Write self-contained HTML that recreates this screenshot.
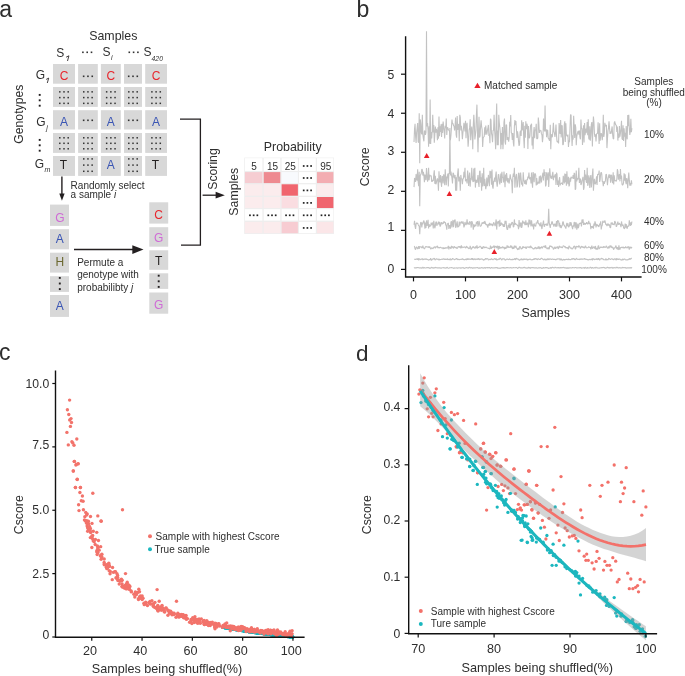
<!DOCTYPE html>
<html><head><meta charset="utf-8"><style>
html,body{margin:0;padding:0;background:#fff;width:685px;height:676px;overflow:hidden}
svg{display:block;font-family:"Liberation Sans", sans-serif}
#w{will-change:transform;width:685px;height:676px}
</style></head><body><div id="w">
<svg width="685" height="676" viewBox="0 0 685 676" font-family='"Liberation Sans", sans-serif'>

<text x="-0.80" y="16.60" font-size="23" text-anchor="start" fill="#2e2e2e">a</text>
<rect x="53.00" y="64.00" width="22.00" height="19.70" fill="#d8d8d8"/>
<text x="64.00" y="80.05" font-size="12" text-anchor="middle" fill="#e8262d">C</text>
<rect x="78.10" y="64.00" width="19.70" height="19.70" fill="#d8d8d8"/>
<rect x="82.85" y="75.50" width="1.60" height="1.60" fill="#333"/>
<rect x="87.15" y="75.50" width="1.60" height="1.60" fill="#333"/>
<rect x="91.45" y="75.50" width="1.60" height="1.60" fill="#333"/>
<rect x="100.90" y="64.00" width="19.90" height="19.70" fill="#d8d8d8"/>
<text x="110.85" y="80.05" font-size="12" text-anchor="middle" fill="#e8262d">C</text>
<rect x="124.00" y="64.00" width="18.00" height="19.70" fill="#d8d8d8"/>
<rect x="127.90" y="75.50" width="1.60" height="1.60" fill="#333"/>
<rect x="132.20" y="75.50" width="1.60" height="1.60" fill="#333"/>
<rect x="136.50" y="75.50" width="1.60" height="1.60" fill="#333"/>
<rect x="145.20" y="64.00" width="21.80" height="19.70" fill="#d8d8d8"/>
<text x="156.10" y="80.05" font-size="12" text-anchor="middle" fill="#e8262d">C</text>
<rect x="53.00" y="87.00" width="22.00" height="19.90" fill="#d8d8d8"/>
<rect x="59.05" y="91.10" width="1.50" height="1.50" fill="#333"/>
<rect x="59.05" y="96.85" width="1.50" height="1.50" fill="#333"/>
<rect x="59.05" y="102.60" width="1.50" height="1.50" fill="#333"/>
<rect x="63.25" y="91.10" width="1.50" height="1.50" fill="#333"/>
<rect x="63.25" y="96.85" width="1.50" height="1.50" fill="#333"/>
<rect x="63.25" y="102.60" width="1.50" height="1.50" fill="#333"/>
<rect x="67.45" y="91.10" width="1.50" height="1.50" fill="#333"/>
<rect x="67.45" y="96.85" width="1.50" height="1.50" fill="#333"/>
<rect x="67.45" y="102.60" width="1.50" height="1.50" fill="#333"/>
<rect x="78.10" y="87.00" width="19.70" height="19.90" fill="#d8d8d8"/>
<rect x="83.00" y="91.10" width="1.50" height="1.50" fill="#333"/>
<rect x="83.00" y="96.85" width="1.50" height="1.50" fill="#333"/>
<rect x="83.00" y="102.60" width="1.50" height="1.50" fill="#333"/>
<rect x="87.20" y="91.10" width="1.50" height="1.50" fill="#333"/>
<rect x="87.20" y="96.85" width="1.50" height="1.50" fill="#333"/>
<rect x="87.20" y="102.60" width="1.50" height="1.50" fill="#333"/>
<rect x="91.40" y="91.10" width="1.50" height="1.50" fill="#333"/>
<rect x="91.40" y="96.85" width="1.50" height="1.50" fill="#333"/>
<rect x="91.40" y="102.60" width="1.50" height="1.50" fill="#333"/>
<rect x="100.90" y="87.00" width="19.90" height="19.90" fill="#d8d8d8"/>
<rect x="105.90" y="91.10" width="1.50" height="1.50" fill="#333"/>
<rect x="105.90" y="96.85" width="1.50" height="1.50" fill="#333"/>
<rect x="105.90" y="102.60" width="1.50" height="1.50" fill="#333"/>
<rect x="110.10" y="91.10" width="1.50" height="1.50" fill="#333"/>
<rect x="110.10" y="96.85" width="1.50" height="1.50" fill="#333"/>
<rect x="110.10" y="102.60" width="1.50" height="1.50" fill="#333"/>
<rect x="114.30" y="91.10" width="1.50" height="1.50" fill="#333"/>
<rect x="114.30" y="96.85" width="1.50" height="1.50" fill="#333"/>
<rect x="114.30" y="102.60" width="1.50" height="1.50" fill="#333"/>
<rect x="124.00" y="87.00" width="18.00" height="19.90" fill="#d8d8d8"/>
<rect x="128.05" y="91.10" width="1.50" height="1.50" fill="#333"/>
<rect x="128.05" y="96.85" width="1.50" height="1.50" fill="#333"/>
<rect x="128.05" y="102.60" width="1.50" height="1.50" fill="#333"/>
<rect x="132.25" y="91.10" width="1.50" height="1.50" fill="#333"/>
<rect x="132.25" y="96.85" width="1.50" height="1.50" fill="#333"/>
<rect x="132.25" y="102.60" width="1.50" height="1.50" fill="#333"/>
<rect x="136.45" y="91.10" width="1.50" height="1.50" fill="#333"/>
<rect x="136.45" y="96.85" width="1.50" height="1.50" fill="#333"/>
<rect x="136.45" y="102.60" width="1.50" height="1.50" fill="#333"/>
<rect x="145.20" y="87.00" width="21.80" height="19.90" fill="#d8d8d8"/>
<rect x="151.15" y="91.10" width="1.50" height="1.50" fill="#333"/>
<rect x="151.15" y="96.85" width="1.50" height="1.50" fill="#333"/>
<rect x="151.15" y="102.60" width="1.50" height="1.50" fill="#333"/>
<rect x="155.35" y="91.10" width="1.50" height="1.50" fill="#333"/>
<rect x="155.35" y="96.85" width="1.50" height="1.50" fill="#333"/>
<rect x="155.35" y="102.60" width="1.50" height="1.50" fill="#333"/>
<rect x="159.55" y="91.10" width="1.50" height="1.50" fill="#333"/>
<rect x="159.55" y="96.85" width="1.50" height="1.50" fill="#333"/>
<rect x="159.55" y="102.60" width="1.50" height="1.50" fill="#333"/>
<rect x="53.00" y="110.20" width="22.00" height="19.30" fill="#d8d8d8"/>
<text x="64.00" y="125.55" font-size="12" text-anchor="middle" fill="#3a55b4">A</text>
<rect x="78.10" y="110.20" width="19.70" height="19.30" fill="#d8d8d8"/>
<rect x="82.85" y="119.50" width="1.60" height="1.60" fill="#333"/>
<rect x="87.15" y="119.50" width="1.60" height="1.60" fill="#333"/>
<rect x="91.45" y="119.50" width="1.60" height="1.60" fill="#333"/>
<rect x="100.90" y="110.20" width="19.90" height="19.30" fill="#d8d8d8"/>
<text x="110.85" y="125.55" font-size="12" text-anchor="middle" fill="#3a55b4">A</text>
<rect x="124.00" y="110.20" width="18.00" height="19.30" fill="#d8d8d8"/>
<rect x="127.90" y="119.50" width="1.60" height="1.60" fill="#333"/>
<rect x="132.20" y="119.50" width="1.60" height="1.60" fill="#333"/>
<rect x="136.50" y="119.50" width="1.60" height="1.60" fill="#333"/>
<rect x="145.20" y="110.20" width="21.80" height="19.30" fill="#d8d8d8"/>
<text x="156.10" y="125.55" font-size="12" text-anchor="middle" fill="#3a55b4">A</text>
<rect x="53.00" y="133.00" width="22.00" height="19.90" fill="#d8d8d8"/>
<rect x="59.05" y="137.05" width="1.50" height="1.50" fill="#333"/>
<rect x="59.05" y="142.55" width="1.50" height="1.50" fill="#333"/>
<rect x="59.05" y="148.05" width="1.50" height="1.50" fill="#333"/>
<rect x="63.25" y="137.05" width="1.50" height="1.50" fill="#333"/>
<rect x="63.25" y="142.55" width="1.50" height="1.50" fill="#333"/>
<rect x="63.25" y="148.05" width="1.50" height="1.50" fill="#333"/>
<rect x="67.45" y="137.05" width="1.50" height="1.50" fill="#333"/>
<rect x="67.45" y="142.55" width="1.50" height="1.50" fill="#333"/>
<rect x="67.45" y="148.05" width="1.50" height="1.50" fill="#333"/>
<rect x="78.10" y="133.00" width="19.70" height="19.90" fill="#d8d8d8"/>
<rect x="83.00" y="137.05" width="1.50" height="1.50" fill="#333"/>
<rect x="83.00" y="142.55" width="1.50" height="1.50" fill="#333"/>
<rect x="83.00" y="148.05" width="1.50" height="1.50" fill="#333"/>
<rect x="87.20" y="137.05" width="1.50" height="1.50" fill="#333"/>
<rect x="87.20" y="142.55" width="1.50" height="1.50" fill="#333"/>
<rect x="87.20" y="148.05" width="1.50" height="1.50" fill="#333"/>
<rect x="91.40" y="137.05" width="1.50" height="1.50" fill="#333"/>
<rect x="91.40" y="142.55" width="1.50" height="1.50" fill="#333"/>
<rect x="91.40" y="148.05" width="1.50" height="1.50" fill="#333"/>
<rect x="100.90" y="133.00" width="19.90" height="19.90" fill="#d8d8d8"/>
<rect x="105.90" y="137.05" width="1.50" height="1.50" fill="#333"/>
<rect x="105.90" y="142.55" width="1.50" height="1.50" fill="#333"/>
<rect x="105.90" y="148.05" width="1.50" height="1.50" fill="#333"/>
<rect x="110.10" y="137.05" width="1.50" height="1.50" fill="#333"/>
<rect x="110.10" y="142.55" width="1.50" height="1.50" fill="#333"/>
<rect x="110.10" y="148.05" width="1.50" height="1.50" fill="#333"/>
<rect x="114.30" y="137.05" width="1.50" height="1.50" fill="#333"/>
<rect x="114.30" y="142.55" width="1.50" height="1.50" fill="#333"/>
<rect x="114.30" y="148.05" width="1.50" height="1.50" fill="#333"/>
<rect x="124.00" y="133.00" width="18.00" height="19.90" fill="#d8d8d8"/>
<rect x="128.05" y="137.05" width="1.50" height="1.50" fill="#333"/>
<rect x="128.05" y="142.55" width="1.50" height="1.50" fill="#333"/>
<rect x="128.05" y="148.05" width="1.50" height="1.50" fill="#333"/>
<rect x="132.25" y="137.05" width="1.50" height="1.50" fill="#333"/>
<rect x="132.25" y="142.55" width="1.50" height="1.50" fill="#333"/>
<rect x="132.25" y="148.05" width="1.50" height="1.50" fill="#333"/>
<rect x="136.45" y="137.05" width="1.50" height="1.50" fill="#333"/>
<rect x="136.45" y="142.55" width="1.50" height="1.50" fill="#333"/>
<rect x="136.45" y="148.05" width="1.50" height="1.50" fill="#333"/>
<rect x="145.20" y="133.00" width="21.80" height="19.90" fill="#d8d8d8"/>
<rect x="151.15" y="137.05" width="1.50" height="1.50" fill="#333"/>
<rect x="151.15" y="142.55" width="1.50" height="1.50" fill="#333"/>
<rect x="151.15" y="148.05" width="1.50" height="1.50" fill="#333"/>
<rect x="155.35" y="137.05" width="1.50" height="1.50" fill="#333"/>
<rect x="155.35" y="142.55" width="1.50" height="1.50" fill="#333"/>
<rect x="155.35" y="148.05" width="1.50" height="1.50" fill="#333"/>
<rect x="159.55" y="137.05" width="1.50" height="1.50" fill="#333"/>
<rect x="159.55" y="142.55" width="1.50" height="1.50" fill="#333"/>
<rect x="159.55" y="148.05" width="1.50" height="1.50" fill="#333"/>
<rect x="53.00" y="156.00" width="22.00" height="19.90" fill="#d8d8d8"/>
<text x="63.30" y="168.75" font-size="12" text-anchor="middle" fill="#231f20">T</text>
<rect x="78.10" y="156.00" width="19.70" height="19.90" fill="#d8d8d8"/>
<rect x="83.00" y="158.15" width="1.50" height="1.50" fill="#333"/>
<rect x="83.00" y="164.35" width="1.50" height="1.50" fill="#333"/>
<rect x="83.00" y="170.55" width="1.50" height="1.50" fill="#333"/>
<rect x="87.20" y="158.15" width="1.50" height="1.50" fill="#333"/>
<rect x="87.20" y="164.35" width="1.50" height="1.50" fill="#333"/>
<rect x="87.20" y="170.55" width="1.50" height="1.50" fill="#333"/>
<rect x="91.40" y="158.15" width="1.50" height="1.50" fill="#333"/>
<rect x="91.40" y="164.35" width="1.50" height="1.50" fill="#333"/>
<rect x="91.40" y="170.55" width="1.50" height="1.50" fill="#333"/>
<rect x="100.90" y="156.00" width="19.90" height="19.90" fill="#d8d8d8"/>
<text x="110.85" y="168.75" font-size="12" text-anchor="middle" fill="#3a55b4">A</text>
<rect x="124.00" y="156.00" width="18.00" height="19.90" fill="#d8d8d8"/>
<rect x="128.05" y="158.15" width="1.50" height="1.50" fill="#333"/>
<rect x="128.05" y="164.35" width="1.50" height="1.50" fill="#333"/>
<rect x="128.05" y="170.55" width="1.50" height="1.50" fill="#333"/>
<rect x="132.25" y="158.15" width="1.50" height="1.50" fill="#333"/>
<rect x="132.25" y="164.35" width="1.50" height="1.50" fill="#333"/>
<rect x="132.25" y="170.55" width="1.50" height="1.50" fill="#333"/>
<rect x="136.45" y="158.15" width="1.50" height="1.50" fill="#333"/>
<rect x="136.45" y="164.35" width="1.50" height="1.50" fill="#333"/>
<rect x="136.45" y="170.55" width="1.50" height="1.50" fill="#333"/>
<rect x="145.20" y="156.00" width="21.80" height="19.90" fill="#d8d8d8"/>
<text x="155.40" y="168.75" font-size="12" text-anchor="middle" fill="#231f20">T</text>
<text x="113.30" y="40.00" font-size="12.4" text-anchor="middle" fill="#2e2e2e">Samples</text>
<text x="56.30" y="57.30" font-size="12" text-anchor="start" fill="#2e2e2e">S</text>
<path d="M66.1,57.2 L68.9,55.8 L67.5,61.0" fill="none" stroke="#231f20" stroke-width="0.85" stroke-linejoin="round"/>
<rect x="82.10" y="51.50" width="1.60" height="1.60" fill="#333"/>
<rect x="86.40" y="51.50" width="1.60" height="1.60" fill="#333"/>
<rect x="90.70" y="51.50" width="1.60" height="1.60" fill="#333"/>
<text x="102.60" y="55.70" font-size="12" text-anchor="start" fill="#2e2e2e">S</text>
<text x="110.90" y="59.70" font-size="7" text-anchor="start" fill="#2e2e2e" font-style="italic">i</text>
<rect x="128.50" y="51.50" width="1.60" height="1.60" fill="#333"/>
<rect x="132.80" y="51.50" width="1.60" height="1.60" fill="#333"/>
<rect x="137.10" y="51.50" width="1.60" height="1.60" fill="#333"/>
<text x="143.60" y="55.90" font-size="12" text-anchor="start" fill="#2e2e2e">S</text>
<text x="151.60" y="60.60" font-size="6.8" text-anchor="start" fill="#2e2e2e" font-style="italic">420</text>
<text x="35.70" y="78.80" font-size="12" text-anchor="start" fill="#2e2e2e">G</text>
<path d="M46.2,79.4 L48.7,78.1 L47.3,83.0" fill="none" stroke="#231f20" stroke-width="0.85" stroke-linejoin="round"/>
<rect x="38.75" y="93.95" width="1.90" height="1.90" fill="#231f20"/>
<rect x="38.75" y="99.35" width="1.90" height="1.90" fill="#231f20"/>
<rect x="38.75" y="104.75" width="1.90" height="1.90" fill="#231f20"/>
<text x="36.30" y="125.50" font-size="12" text-anchor="start" fill="#2e2e2e">G</text>
<text x="46.30" y="129.60" font-size="7" text-anchor="start" fill="#2e2e2e" font-style="italic">j</text>
<rect x="38.75" y="138.95" width="1.90" height="1.90" fill="#231f20"/>
<rect x="38.75" y="144.35" width="1.90" height="1.90" fill="#231f20"/>
<rect x="38.75" y="149.75" width="1.90" height="1.90" fill="#231f20"/>
<text x="34.70" y="167.70" font-size="12" text-anchor="start" fill="#2e2e2e">G</text>
<text x="44.40" y="171.90" font-size="7" text-anchor="start" fill="#2e2e2e" font-style="italic">m</text>
<text x="22.70" y="114.20" font-size="12.2" text-anchor="middle" fill="#2e2e2e" transform="rotate(-90 22.70 114.20)">Genotypes</text>
<line x1="61.90" y1="176.50" x2="61.90" y2="195.00" stroke="#231f20" stroke-width="1.4"/>
<polygon points="59.30,193.60 64.60,193.60 61.95,200.80" fill="#231f20"/>
<text x="70.60" y="188.60" font-size="10" text-anchor="start" fill="#2e2e2e">Randomly select</text>
<text x="70.6" y="198.0" font-size="10" fill="#2e2e2e">a sample <tspan font-style="italic">i</tspan></text>
<rect x="50.00" y="204.60" width="19.00" height="21.30" fill="#d8d8d8"/>
<text x="59.80" y="221.85" font-size="12" text-anchor="middle" fill="#cf6ad6">G</text>
<rect x="50.00" y="229.20" width="19.00" height="20.10" fill="#d8d8d8"/>
<text x="59.80" y="243.15" font-size="12" text-anchor="middle" fill="#3a55b4">A</text>
<rect x="50.00" y="252.70" width="19.00" height="19.90" fill="#d8d8d8"/>
<text x="59.80" y="266.25" font-size="12" text-anchor="middle" fill="#6b6830">H</text>
<rect x="50.00" y="276.20" width="19.00" height="15.70" fill="#d8d8d8"/>
<rect x="58.85" y="276.95" width="1.90" height="1.90" fill="#231f20"/>
<rect x="58.85" y="282.55" width="1.90" height="1.90" fill="#231f20"/>
<rect x="58.85" y="288.15" width="1.90" height="1.90" fill="#231f20"/>
<rect x="50.00" y="295.00" width="19.00" height="21.90" fill="#d8d8d8"/>
<text x="59.80" y="309.65" font-size="12" text-anchor="middle" fill="#3a55b4">A</text>
<rect x="149.30" y="202.30" width="18.90" height="21.30" fill="#d8d8d8"/>
<text x="158.70" y="219.35" font-size="12" text-anchor="middle" fill="#e8262d">C</text>
<rect x="149.30" y="227.20" width="18.90" height="19.50" fill="#d8d8d8"/>
<text x="158.70" y="242.15" font-size="12" text-anchor="middle" fill="#cf6ad6">G</text>
<rect x="149.30" y="250.30" width="18.90" height="19.50" fill="#d8d8d8"/>
<text x="158.70" y="265.25" font-size="12" text-anchor="middle" fill="#231f20">T</text>
<rect x="149.30" y="273.30" width="18.90" height="15.60" fill="#d8d8d8"/>
<rect x="157.75" y="274.75" width="1.90" height="1.90" fill="#231f20"/>
<rect x="157.75" y="280.35" width="1.90" height="1.90" fill="#231f20"/>
<rect x="157.75" y="285.95" width="1.90" height="1.90" fill="#231f20"/>
<rect x="149.30" y="292.50" width="18.90" height="21.20" fill="#d8d8d8"/>
<text x="158.70" y="308.65" font-size="12" text-anchor="middle" fill="#cf6ad6">G</text>
<line x1="74.00" y1="249.60" x2="134.00" y2="249.60" stroke="#231f20" stroke-width="1.5"/>
<polygon points="132.30,245.30 143.50,249.60 132.30,254.00" fill="#231f20"/>
<text x="77.20" y="266.40" font-size="10" text-anchor="start" fill="#2e2e2e">Permute a</text>
<text x="77.20" y="278.30" font-size="10" text-anchor="start" fill="#2e2e2e">genotype with</text>
<text x="77.2" y="290.5" font-size="10" fill="#2e2e2e">probabilibty <tspan font-style="italic">j</tspan></text>
<polyline points="180.0,119.1 200.4,119.1 200.4,245.2 181.0,245.2" fill="none" stroke="#231f20" stroke-width="1.3"/>
<line x1="202.60" y1="195.20" x2="217.00" y2="195.20" stroke="#231f20" stroke-width="1.3"/>
<polygon points="215.60,191.80 224.80,195.20 215.60,198.60" fill="#231f20"/>
<text x="217.20" y="169.00" font-size="12.2" text-anchor="middle" fill="#2e2e2e" transform="rotate(-90 217.20 169.00)">Scoring</text>
<text x="238.20" y="191.70" font-size="12.3" text-anchor="middle" fill="#2e2e2e" transform="rotate(-90 238.20 191.70)">Samples</text>
<text x="292.70" y="151.00" font-size="12.4" text-anchor="middle" fill="#2e2e2e">Probability</text>
<rect x="244.20" y="157.60" width="89.80" height="76.30" fill="#eeeeee"/>
<rect x="244.90" y="158.20" width="17.50" height="12.70" fill="#ffffff"/>
<text x="254.15" y="170.30" font-size="10" text-anchor="middle" fill="#2e2e2e">5</text>
<rect x="263.70" y="158.20" width="16.60" height="12.70" fill="#ffffff"/>
<text x="272.50" y="170.30" font-size="10" text-anchor="middle" fill="#2e2e2e">15</text>
<rect x="281.60" y="158.20" width="16.30" height="12.70" fill="#ffffff"/>
<text x="290.25" y="170.30" font-size="10" text-anchor="middle" fill="#2e2e2e">25</text>
<rect x="299.00" y="158.20" width="16.80" height="12.70" fill="#ffffff"/>
<rect x="302.85" y="165.15" width="1.70" height="1.70" fill="#222"/>
<rect x="306.55" y="165.15" width="1.70" height="1.70" fill="#222"/>
<rect x="310.25" y="165.15" width="1.70" height="1.70" fill="#222"/>
<rect x="317.00" y="158.20" width="16.40" height="12.70" fill="#ffffff"/>
<text x="325.70" y="170.30" font-size="10" text-anchor="middle" fill="#2e2e2e">95</text>
<rect x="244.90" y="172.10" width="17.50" height="11.00" fill="#f6cdd2"/>
<rect x="263.70" y="172.10" width="16.60" height="11.00" fill="#ee8a90"/>
<rect x="281.60" y="172.10" width="16.30" height="11.00" fill="#f8fafd"/>
<rect x="299.00" y="172.10" width="16.80" height="11.00" fill="#ffffff"/>
<rect x="302.85" y="177.15" width="1.70" height="1.70" fill="#222"/>
<rect x="306.55" y="177.15" width="1.70" height="1.70" fill="#222"/>
<rect x="310.25" y="177.15" width="1.70" height="1.70" fill="#222"/>
<rect x="317.00" y="172.10" width="16.40" height="11.00" fill="#f3adb2"/>
<rect x="244.90" y="184.30" width="17.50" height="11.40" fill="#fbeced"/>
<rect x="263.70" y="184.30" width="16.60" height="11.40" fill="#fbeced"/>
<rect x="281.60" y="184.30" width="16.30" height="11.40" fill="#f0656e"/>
<rect x="299.00" y="184.30" width="16.80" height="11.40" fill="#ffffff"/>
<rect x="302.85" y="189.55" width="1.70" height="1.70" fill="#222"/>
<rect x="306.55" y="189.55" width="1.70" height="1.70" fill="#222"/>
<rect x="310.25" y="189.55" width="1.70" height="1.70" fill="#222"/>
<rect x="317.00" y="184.30" width="16.40" height="11.40" fill="#fbeced"/>
<rect x="244.90" y="197.00" width="17.50" height="11.00" fill="#fbeced"/>
<rect x="263.70" y="197.00" width="16.60" height="11.00" fill="#fbeced"/>
<rect x="281.60" y="197.00" width="16.30" height="11.00" fill="#fadde1"/>
<rect x="299.00" y="197.00" width="16.80" height="11.00" fill="#ffffff"/>
<rect x="302.85" y="202.05" width="1.70" height="1.70" fill="#222"/>
<rect x="306.55" y="202.05" width="1.70" height="1.70" fill="#222"/>
<rect x="310.25" y="202.05" width="1.70" height="1.70" fill="#222"/>
<rect x="317.00" y="197.00" width="16.40" height="11.00" fill="#f0656e"/>
<rect x="244.90" y="209.20" width="17.50" height="11.40" fill="#ffffff"/>
<rect x="249.10" y="214.45" width="1.70" height="1.70" fill="#222"/>
<rect x="252.80" y="214.45" width="1.70" height="1.70" fill="#222"/>
<rect x="256.50" y="214.45" width="1.70" height="1.70" fill="#222"/>
<rect x="263.70" y="209.20" width="16.60" height="11.40" fill="#ffffff"/>
<rect x="267.45" y="214.45" width="1.70" height="1.70" fill="#222"/>
<rect x="271.15" y="214.45" width="1.70" height="1.70" fill="#222"/>
<rect x="274.85" y="214.45" width="1.70" height="1.70" fill="#222"/>
<rect x="281.60" y="209.20" width="16.30" height="11.40" fill="#ffffff"/>
<rect x="285.20" y="214.45" width="1.70" height="1.70" fill="#222"/>
<rect x="288.90" y="214.45" width="1.70" height="1.70" fill="#222"/>
<rect x="292.60" y="214.45" width="1.70" height="1.70" fill="#222"/>
<rect x="299.00" y="209.20" width="16.80" height="11.40" fill="#ffffff"/>
<rect x="302.85" y="214.45" width="1.70" height="1.70" fill="#222"/>
<rect x="306.55" y="214.45" width="1.70" height="1.70" fill="#222"/>
<rect x="310.25" y="214.45" width="1.70" height="1.70" fill="#222"/>
<rect x="317.00" y="209.20" width="16.40" height="11.40" fill="#ffffff"/>
<rect x="320.65" y="214.45" width="1.70" height="1.70" fill="#222"/>
<rect x="324.35" y="214.45" width="1.70" height="1.70" fill="#222"/>
<rect x="328.05" y="214.45" width="1.70" height="1.70" fill="#222"/>
<rect x="244.90" y="221.90" width="17.50" height="11.30" fill="#fbeced"/>
<rect x="263.70" y="221.90" width="16.60" height="11.30" fill="#fbeced"/>
<rect x="281.60" y="221.90" width="16.30" height="11.30" fill="#f7ccd2"/>
<rect x="299.00" y="221.90" width="16.80" height="11.30" fill="#ffffff"/>
<rect x="302.85" y="227.10" width="1.70" height="1.70" fill="#222"/>
<rect x="306.55" y="227.10" width="1.70" height="1.70" fill="#222"/>
<rect x="310.25" y="227.10" width="1.70" height="1.70" fill="#222"/>
<rect x="317.00" y="221.90" width="16.40" height="11.30" fill="#fbe6e8"/>
<text x="356.50" y="16.70" font-size="23" text-anchor="start" fill="#2e2e2e">b</text>
<polyline fill="none" stroke="#c2c2c2" stroke-width="1.1" stroke-linejoin="bevel" points="414.02,142.01 414.54,128.88 415.06,123.82 415.58,136.19 416.10,142.87 416.62,132.52 417.14,128.06 417.66,122.98 418.18,141.95 418.70,142.58 419.22,113.24 419.74,163.21 420.26,119.40 420.78,123.92 421.30,132.81 421.82,134.23 422.34,114.76 422.86,134.35 423.38,138.41 423.90,141.31 424.42,131.20 424.94,130.79 425.46,134.81 425.98,132.49 426.50,31.26 427.02,126.30 427.54,122.99 428.06,130.26 428.58,146.65 429.10,126.23 429.62,143.62 430.14,99.58 430.66,144.06 431.18,131.96 431.70,138.36 432.22,130.23 432.74,114.76 433.26,132.38 433.78,125.07 434.30,142.83 434.82,134.34 435.34,126.55 435.86,132.74 436.38,128.94 436.90,131.13 437.42,140.23 437.94,127.36 438.46,138.64 438.98,116.63 439.50,136.12 440.02,126.35 440.54,131.96 441.06,124.17 441.58,136.92 442.10,123.79 442.62,132.99 443.14,121.62 443.66,126.86 444.18,130.82 444.70,138.38 445.22,125.68 445.74,128.14 446.26,118.52 446.78,135.07 447.30,127.43 447.82,127.81 448.34,129.66 448.86,130.27 449.38,130.49 449.90,136.89 450.42,140.30 450.94,135.23 451.46,127.14 451.98,119.59 452.50,123.97 453.02,123.34 453.54,125.61 454.06,126.25 454.58,130.48 455.10,125.65 455.62,117.44 456.14,134.67 456.66,137.67 457.18,115.91 457.70,129.97 458.22,124.02 458.74,124.81 459.26,141.29 459.78,114.76 460.30,117.42 460.82,130.53 461.34,125.81 461.86,130.94 462.38,139.23 462.90,132.90 463.42,128.91 463.94,122.83 464.46,126.16 464.98,131.49 465.50,120.87 466.02,138.22 466.54,125.48 467.06,122.86 467.58,134.37 468.10,146.66 468.62,139.41 469.14,130.04 469.66,127.65 470.18,119.29 470.70,140.21 471.22,131.96 471.74,126.66 472.26,133.27 472.78,149.20 473.30,125.37 473.82,114.76 474.34,123.75 474.86,139.50 475.38,135.36 475.90,130.16 476.42,114.76 476.94,104.65 477.46,131.05 477.98,152.28 478.50,132.65 479.02,116.72 479.54,137.60 480.06,135.87 480.58,126.07 481.10,120.30 481.62,126.62 482.14,129.51 482.66,146.91 483.18,137.82 483.70,136.99 484.22,136.35 484.74,127.17 485.26,134.73 485.78,125.52 486.30,131.30 486.82,134.71 487.34,131.01 487.86,128.46 488.38,124.94 488.90,135.89 489.42,133.89 489.94,143.16 490.46,118.83 490.98,120.08 491.50,133.45 492.02,135.90 492.54,142.11 493.06,130.59 493.58,130.29 494.10,114.76 494.62,129.96 495.14,138.36 495.66,149.20 496.18,120.42 496.70,103.48 497.22,145.17 497.74,130.50 498.26,145.17 498.78,114.76 499.30,122.81 499.82,127.29 500.34,133.41 500.86,149.20 501.38,133.02 501.90,144.72 502.42,127.09 502.94,149.20 503.46,139.42 503.98,121.98 504.50,118.50 505.02,141.66 505.54,144.56 506.06,124.77 506.58,124.99 507.10,140.07 507.62,137.67 508.14,137.67 508.66,141.73 509.18,137.56 509.70,121.73 510.22,126.33 510.74,115.12 511.26,132.69 511.78,133.09 512.30,140.03 512.82,132.99 513.34,142.74 513.86,146.55 514.38,126.27 514.90,120.17 515.42,125.12 515.94,121.06 516.46,129.91 516.98,137.87 517.50,131.27 518.02,135.05 518.54,141.09 519.06,145.85 519.58,144.14 520.10,132.02 520.62,130.74 521.14,135.87 521.66,120.26 522.18,130.51 522.70,127.20 523.22,121.99 523.74,138.70 524.26,148.13 524.78,125.81 525.30,137.62 525.82,121.23 526.34,129.21 526.86,123.73 527.38,125.72 527.90,149.04 528.42,126.08 528.94,137.50 529.46,138.18 529.98,135.55 530.50,125.68 531.02,124.73 531.54,123.69 532.06,145.59 532.58,136.82 533.10,149.20 533.62,132.82 534.14,127.06 534.66,138.24 535.18,129.97 535.70,130.08 536.22,123.72 536.74,138.71 537.26,138.78 537.78,138.24 538.30,117.61 538.82,123.04 539.34,132.99 539.86,130.13 540.38,131.04 540.90,130.31 541.42,133.69 541.94,134.72 542.46,142.28 542.98,137.24 543.50,118.45 544.02,127.58 544.54,131.45 545.06,105.43 545.58,131.47 546.10,129.08 546.62,137.27 547.14,130.37 547.66,130.01 548.18,138.12 548.70,138.45 549.22,140.17 549.74,140.70 550.26,124.68 550.78,149.20 551.30,134.17 551.82,136.99 552.34,137.06 552.86,131.18 553.38,122.73 553.90,131.35 554.42,133.13 554.94,137.00 555.46,133.04 555.98,124.50 556.50,135.21 557.02,141.38 557.54,142.34 558.06,141.05 558.58,143.37 559.10,122.97 559.62,129.07 560.14,133.93 560.66,120.01 561.18,137.37 561.70,125.81 562.22,125.41 562.74,144.66 563.26,144.74 563.78,139.58 564.30,124.55 564.82,121.35 565.34,142.04 565.86,123.38 566.38,135.12 566.90,135.20 567.42,136.50 567.94,134.64 568.46,146.89 568.98,140.19 569.50,142.11 570.02,127.96 570.54,114.85 571.06,114.76 571.58,134.74 572.10,146.09 572.62,135.32 573.14,139.68 573.66,115.72 574.18,127.30 574.70,137.95 575.22,124.31 575.74,127.59 576.26,145.30 576.78,136.34 577.30,133.94 577.82,131.82 578.34,130.90 578.86,134.76 579.38,130.42 579.90,136.78 580.42,139.33 580.94,119.55 581.46,129.03 581.98,128.39 582.50,145.06 583.02,133.34 583.54,125.26 584.06,142.57 584.58,122.98 585.10,135.17 585.62,128.68 586.14,133.07 586.66,130.19 587.18,122.11 587.70,135.29 588.22,119.15 588.74,138.39 589.26,139.62 589.78,126.15 590.30,140.72 590.82,135.02 591.34,124.54 591.86,122.06 592.38,146.53 592.90,127.83 593.42,116.54 593.94,122.18 594.46,133.95 594.98,136.90 595.50,134.41 596.02,141.43 596.54,134.15 597.06,133.51 597.58,133.17 598.10,122.28 598.62,133.87 599.14,143.93 599.66,123.36 600.18,140.77 600.70,135.65 601.22,133.08 601.74,134.80 602.26,140.20 602.78,134.02 603.30,114.76 603.82,136.95 604.34,133.10 604.86,122.77 605.38,125.87 605.90,125.72 606.42,124.91 606.94,148.11 607.46,139.06 607.98,130.93 608.50,127.89 609.02,121.37 609.54,128.13 610.06,133.93 610.58,131.66 611.10,133.71 611.62,129.95 612.14,126.45 612.66,134.77 613.18,138.65 613.70,138.99 614.22,122.99 614.74,121.48 615.26,123.85 615.78,124.95 616.30,125.15 616.82,132.00 617.34,126.54 617.86,140.60 618.38,133.64 618.90,137.99 619.42,126.02 619.94,136.73 620.46,132.87 620.98,128.70 621.50,120.87 622.02,138.47 622.54,139.68 623.06,125.28 623.58,141.05 624.10,128.27 624.62,136.65 625.14,132.85 625.66,146.91 626.18,126.13 626.70,136.08 627.22,139.35 627.74,114.95 628.26,126.14 628.78,114.76 629.30,128.64 629.82,134.83 630.34,131.10 630.86,118.81 631.38,132.20 631.90,128.28"/>
<polyline fill="none" stroke="#c2c2c2" stroke-width="1.1" stroke-linejoin="bevel" points="414.02,187.12 414.54,177.94 415.06,180.74 415.58,181.84 416.10,173.93 416.62,178.86 417.14,180.72 417.66,169.36 418.18,181.92 418.70,186.12 419.22,171.80 419.74,206.16 420.26,175.62 420.78,174.56 421.30,172.99 421.82,169.09 422.34,169.80 422.86,175.57 423.38,171.79 423.90,175.45 424.42,182.11 424.94,174.46 425.46,178.64 425.98,180.10 426.50,167.96 427.02,174.69 427.54,181.60 428.06,179.35 428.58,167.74 429.10,180.29 429.62,174.86 430.14,175.49 430.66,176.09 431.18,175.67 431.70,181.58 432.22,181.48 432.74,179.80 433.26,180.89 433.78,174.44 434.30,170.37 434.82,183.84 435.34,175.89 435.86,184.34 436.38,182.75 436.90,180.24 437.42,178.32 437.94,181.34 438.46,190.70 438.98,171.24 439.50,180.41 440.02,182.43 440.54,175.14 441.06,182.22 441.58,186.83 442.10,176.20 442.62,176.59 443.14,183.49 443.66,174.27 444.18,176.84 444.70,185.20 445.22,169.21 445.74,177.43 446.26,185.20 446.78,176.41 447.30,178.21 447.82,173.54 448.34,186.39 448.86,173.15 449.38,173.70 449.90,128.08 450.42,175.53 450.94,171.63 451.46,174.94 451.98,178.21 452.50,183.56 453.02,172.76 453.54,173.48 454.06,177.27 454.58,178.08 455.10,174.92 455.62,190.70 456.14,177.17 456.66,190.70 457.18,177.59 457.70,173.07 458.22,168.43 458.74,181.55 459.26,176.55 459.78,179.33 460.30,190.70 460.82,174.90 461.34,179.04 461.86,178.57 462.38,184.17 462.90,179.18 463.42,178.50 463.94,171.86 464.46,177.33 464.98,167.74 465.50,181.22 466.02,180.42 466.54,179.24 467.06,183.45 467.58,170.58 468.10,175.37 468.62,186.01 469.14,178.36 469.66,172.58 470.18,186.82 470.70,178.13 471.22,180.27 471.74,167.74 472.26,176.66 472.78,181.22 473.30,182.07 473.82,168.48 474.34,181.54 474.86,167.74 475.38,187.61 475.90,180.02 476.42,180.28 476.94,182.86 477.46,180.13 477.98,175.13 478.50,182.64 479.02,186.90 479.54,171.50 480.06,170.82 480.58,182.78 481.10,177.27 481.62,190.70 482.14,173.19 482.66,186.33 483.18,182.03 483.70,167.74 484.22,185.96 484.74,178.85 485.26,184.89 485.78,189.20 486.30,185.42 486.82,177.46 487.34,186.20 487.86,182.23 488.38,174.93 488.90,179.84 489.42,186.23 489.94,170.67 490.46,178.29 490.98,171.18 491.50,184.77 492.02,169.62 492.54,186.43 493.06,188.63 493.58,181.32 494.10,181.02 494.62,177.51 495.14,182.07 495.66,175.45 496.18,171.57 496.70,182.58 497.22,186.58 497.74,181.19 498.26,174.43 498.78,174.45 499.30,180.89 499.82,184.43 500.34,179.07 500.86,173.63 501.38,182.93 501.90,171.78 502.42,177.72 502.94,177.37 503.46,182.44 503.98,171.43 504.50,178.73 505.02,187.22 505.54,174.44 506.06,181.30 506.58,173.01 507.10,178.04 507.62,182.44 508.14,178.03 508.66,181.69 509.18,183.55 509.70,178.86 510.22,174.36 510.74,178.58 511.26,179.45 511.78,182.05 512.30,193.27 512.82,177.47 513.34,173.67 513.86,176.95 514.38,167.74 514.90,187.68 515.42,179.27 515.94,176.02 516.46,174.01 516.98,187.46 517.50,185.74 518.02,179.21 518.54,173.15 519.06,172.90 519.58,187.38 520.10,178.26 520.62,172.49 521.14,178.83 521.66,184.69 522.18,182.95 522.70,186.37 523.22,172.38 523.74,180.41 524.26,181.36 524.78,183.82 525.30,179.75 525.82,184.01 526.34,184.39 526.86,179.21 527.38,180.26 527.90,176.45 528.42,178.17 528.94,172.45 529.46,179.24 529.98,177.54 530.50,177.74 531.02,183.45 531.54,172.42 532.06,182.10 532.58,187.73 533.10,172.09 533.62,175.38 534.14,182.11 534.66,173.72 535.18,173.66 535.70,175.10 536.22,185.47 536.74,178.01 537.26,184.72 537.78,182.37 538.30,182.10 538.82,183.67 539.34,176.27 539.86,183.35 540.38,175.56 540.90,178.05 541.42,182.34 541.94,178.05 542.46,175.19 542.98,172.68 543.50,180.42 544.02,169.40 544.54,175.83 545.06,172.11 545.58,186.45 546.10,184.84 546.62,172.31 547.14,180.23 547.66,176.43 548.18,172.37 548.70,186.96 549.22,176.50 549.74,168.30 550.26,174.58 550.78,178.50 551.30,175.88 551.82,178.95 552.34,174.72 552.86,171.80 553.38,180.24 553.90,175.82 554.42,177.31 554.94,174.89 555.46,174.38 555.98,184.91 556.50,172.57 557.02,174.24 557.54,185.03 558.06,180.56 558.58,187.03 559.10,180.59 559.62,177.19 560.14,185.38 560.66,183.26 561.18,183.83 561.70,182.83 562.22,183.26 562.74,184.89 563.26,175.86 563.78,180.18 564.30,183.53 564.82,173.56 565.34,182.11 565.86,174.07 566.38,185.81 566.90,171.25 567.42,181.46 567.94,184.22 568.46,176.74 568.98,186.35 569.50,184.95 570.02,177.69 570.54,181.66 571.06,176.80 571.58,178.22 572.10,177.61 572.62,178.28 573.14,175.08 573.66,179.00 574.18,172.92 574.70,173.79 575.22,189.82 575.74,188.66 576.26,170.44 576.78,181.44 577.30,177.98 577.82,179.62 578.34,177.49 578.86,167.74 579.38,182.89 579.90,178.65 580.42,178.97 580.94,184.95 581.46,183.81 581.98,180.49 582.50,179.10 583.02,176.89 583.54,189.79 584.06,187.62 584.58,169.95 585.10,179.99 585.62,174.48 586.14,181.32 586.66,182.91 587.18,167.74 587.70,185.79 588.22,184.00 588.74,175.29 589.26,178.91 589.78,188.02 590.30,178.24 590.82,175.00 591.34,187.39 591.86,182.08 592.38,174.69 592.90,168.51 593.42,190.70 593.94,182.80 594.46,178.88 594.98,184.02 595.50,183.99 596.02,181.77 596.54,176.20 597.06,184.87 597.58,174.25 598.10,174.45 598.62,174.34 599.14,170.59 599.66,181.89 600.18,179.29 600.70,173.53 601.22,172.07 601.74,173.86 602.26,181.49 602.78,181.70 603.30,186.24 603.82,181.41 604.34,183.93 604.86,181.70 605.38,181.10 605.90,174.46 606.42,174.32 606.94,179.29 607.46,185.28 607.98,179.31 608.50,176.65 609.02,174.33 609.54,177.87 610.06,174.59 610.58,182.62 611.10,175.46 611.62,174.97 612.14,180.96 612.66,183.18 613.18,172.26 613.70,184.47 614.22,175.26 614.74,180.50 615.26,180.93 615.78,180.41 616.30,181.44 616.82,179.23 617.34,169.26 617.86,171.05 618.38,179.75 618.90,176.44 619.42,174.05 619.94,181.35 620.46,168.95 620.98,178.84 621.50,175.62 622.02,184.25 622.54,185.15 623.06,184.49 623.58,182.55 624.10,173.36 624.62,180.76 625.14,174.19 625.66,181.32 626.18,184.25 626.70,178.10 627.22,181.20 627.74,188.12 628.26,178.76 628.78,172.55 629.30,180.17 629.82,185.60 630.34,183.17 630.86,185.66 631.38,180.36 631.90,184.21"/>
<polyline fill="none" stroke="#c2c2c2" stroke-width="1.1" stroke-linejoin="bevel" points="414.02,224.71 414.54,220.83 415.06,226.40 415.58,228.82 416.10,223.82 416.62,222.89 417.14,223.46 417.66,223.12 418.18,224.63 418.70,225.78 419.22,226.15 419.74,234.26 420.26,225.22 420.78,222.03 421.30,222.77 421.82,227.33 422.34,222.57 422.86,224.33 423.38,221.54 423.90,220.60 424.42,222.90 424.94,228.58 425.46,222.66 425.98,228.05 426.50,220.42 427.02,225.85 427.54,224.70 428.06,219.79 428.58,228.55 429.10,224.17 429.62,226.86 430.14,225.51 430.66,226.19 431.18,222.57 431.70,224.98 432.22,223.39 432.74,222.67 433.26,228.43 433.78,220.81 434.30,224.84 434.82,228.29 435.34,225.85 435.86,222.10 436.38,221.78 436.90,225.92 437.42,223.98 437.94,223.64 438.46,221.69 438.98,224.56 439.50,221.82 440.02,226.42 440.54,226.00 441.06,222.59 441.58,222.44 442.10,224.34 442.62,222.74 443.14,223.71 443.66,222.33 444.18,221.36 444.70,222.94 445.22,222.20 445.74,225.19 446.26,225.60 446.78,229.59 447.30,223.21 447.82,224.15 448.34,222.91 448.86,228.84 449.38,225.42 449.90,225.60 450.42,228.67 450.94,221.98 451.46,221.21 451.98,227.37 452.50,223.12 453.02,219.96 453.54,227.22 454.06,221.78 454.58,220.30 455.10,219.61 455.62,227.59 456.14,226.85 456.66,223.70 457.18,221.25 457.70,227.33 458.22,226.08 458.74,226.98 459.26,221.49 459.78,225.60 460.30,222.80 460.82,222.62 461.34,221.35 461.86,223.19 462.38,223.38 462.90,221.35 463.42,223.04 463.94,227.35 464.46,225.55 464.98,221.98 465.50,223.87 466.02,225.09 466.54,223.61 467.06,219.42 467.58,224.35 468.10,223.02 468.62,223.09 469.14,224.89 469.66,221.26 470.18,222.09 470.70,223.23 471.22,227.58 471.74,221.09 472.26,222.32 472.78,224.43 473.30,229.59 473.82,224.37 474.34,227.23 474.86,224.79 475.38,225.49 475.90,226.28 476.42,221.71 476.94,223.94 477.46,221.15 477.98,226.62 478.50,224.70 479.02,220.83 479.54,223.41 480.06,226.02 480.58,226.43 481.10,225.70 481.62,224.43 482.14,222.51 482.66,223.86 483.18,222.35 483.70,222.14 484.22,223.93 484.74,221.02 485.26,222.39 485.78,224.68 486.30,224.63 486.82,224.27 487.34,226.06 487.86,227.56 488.38,224.13 488.90,225.50 489.42,222.77 489.94,225.71 490.46,223.98 490.98,223.73 491.50,225.40 492.02,223.75 492.54,226.02 493.06,225.29 493.58,222.24 494.10,223.26 494.62,224.24 495.14,226.18 495.66,222.50 496.18,219.42 496.70,229.59 497.22,221.62 497.74,223.69 498.26,221.50 498.78,221.33 499.30,226.76 499.82,219.91 500.34,225.71 500.86,224.86 501.38,222.68 501.90,224.45 502.42,223.57 502.94,225.52 503.46,226.82 503.98,224.20 504.50,226.95 505.02,220.90 505.54,223.63 506.06,220.75 506.58,227.34 507.10,229.41 507.62,229.59 508.14,225.18 508.66,227.44 509.18,223.35 509.70,227.87 510.22,227.69 510.74,223.55 511.26,225.22 511.78,222.56 512.30,222.23 512.82,223.36 513.34,227.27 513.86,226.40 514.38,219.42 514.90,224.81 515.42,223.52 515.94,223.93 516.46,224.31 516.98,224.67 517.50,225.64 518.02,225.53 518.54,229.25 519.06,220.10 519.58,224.51 520.10,227.51 520.62,222.96 521.14,222.59 521.66,227.83 522.18,225.53 522.70,220.53 523.22,222.90 523.74,223.18 524.26,221.77 524.78,224.57 525.30,224.98 525.82,220.29 526.34,224.70 526.86,224.44 527.38,222.66 527.90,224.16 528.42,227.31 528.94,219.55 529.46,224.42 529.98,219.79 530.50,222.98 531.02,226.50 531.54,220.41 532.06,224.68 532.58,226.38 533.10,224.32 533.62,229.57 534.14,223.24 534.66,226.05 535.18,224.87 535.70,226.46 536.22,222.56 536.74,223.35 537.26,221.56 537.78,220.12 538.30,223.55 538.82,224.02 539.34,223.49 539.86,226.26 540.38,225.60 540.90,222.37 541.42,226.38 541.94,229.05 542.46,225.12 542.98,223.61 543.50,220.60 544.02,226.02 544.54,226.57 545.06,224.01 545.58,224.63 546.10,223.63 546.62,225.53 547.14,223.76 547.66,225.69 548.18,221.81 548.70,208.89 549.22,222.84 549.74,225.34 550.26,227.80 550.78,224.22 551.30,224.39 551.82,221.53 552.34,221.86 552.86,224.34 553.38,224.37 553.90,226.71 554.42,224.36 554.94,223.74 555.46,225.28 555.98,226.94 556.50,221.09 557.02,226.55 557.54,220.17 558.06,221.34 558.58,220.45 559.10,226.36 559.62,222.71 560.14,227.70 560.66,225.16 561.18,228.03 561.70,226.08 562.22,225.51 562.74,221.90 563.26,221.61 563.78,225.18 564.30,224.97 564.82,226.59 565.34,227.09 565.86,228.67 566.38,224.81 566.90,222.81 567.42,226.17 567.94,223.38 568.46,227.12 568.98,226.75 569.50,225.60 570.02,222.11 570.54,225.58 571.06,222.40 571.58,225.15 572.10,227.01 572.62,229.22 573.14,225.45 573.66,226.65 574.18,222.07 574.70,223.21 575.22,228.32 575.74,222.23 576.26,222.99 576.78,229.59 577.30,226.86 577.82,223.70 578.34,228.21 578.86,226.09 579.38,223.03 579.90,223.69 580.42,223.20 580.94,222.80 581.46,226.46 581.98,219.42 582.50,223.03 583.02,219.42 583.54,224.96 584.06,222.93 584.58,223.47 585.10,224.67 585.62,223.54 586.14,223.68 586.66,222.32 587.18,223.53 587.70,224.17 588.22,223.12 588.74,220.78 589.26,224.14 589.78,222.83 590.30,223.97 590.82,229.10 591.34,226.51 591.86,226.55 592.38,227.71 592.90,225.83 593.42,228.62 593.94,223.66 594.46,225.62 594.98,221.33 595.50,223.38 596.02,227.42 596.54,224.85 597.06,224.21 597.58,225.97 598.10,225.20 598.62,226.96 599.14,226.10 599.66,223.65 600.18,225.13 600.70,221.38 601.22,229.48 601.74,226.26 602.26,225.23 602.78,220.73 603.30,221.62 603.82,222.49 604.34,221.96 604.86,220.46 605.38,222.69 605.90,224.91 606.42,223.89 606.94,226.10 607.46,224.89 607.98,223.44 608.50,225.56 609.02,224.10 609.54,225.40 610.06,227.54 610.58,227.84 611.10,222.67 611.62,224.28 612.14,222.34 612.66,224.61 613.18,224.39 613.70,223.72 614.22,225.18 614.74,221.02 615.26,221.94 615.78,223.41 616.30,226.90 616.82,225.67 617.34,223.88 617.86,221.57 618.38,224.48 618.90,224.45 619.42,223.12 619.94,224.11 620.46,224.77 620.98,227.12 621.50,221.43 622.02,224.53 622.54,225.65 623.06,224.66 623.58,227.62 624.10,228.48 624.62,228.73 625.14,223.52 625.66,227.63 626.18,224.15 626.70,227.30 627.22,228.73 627.74,225.93 628.26,226.22 628.78,226.11 629.30,220.26 629.82,223.96 630.34,225.88 630.86,222.34 631.38,225.22 631.90,221.51"/>
<polyline fill="none" stroke="#c2c2c2" stroke-width="1.1" stroke-linejoin="bevel" points="414.02,246.30 414.54,246.55 415.06,248.93 415.58,249.51 416.10,247.64 416.62,246.76 417.14,247.69 417.66,249.02 418.18,248.04 418.70,246.08 419.22,248.94 419.74,246.47 420.26,247.01 420.78,247.05 421.30,246.76 421.82,248.09 422.34,247.66 422.86,245.71 423.38,247.93 423.90,247.96 424.42,248.96 424.94,248.01 425.46,246.79 425.98,246.27 426.50,246.88 427.02,246.89 427.54,246.94 428.06,247.19 428.58,246.52 429.10,247.68 429.62,246.45 430.14,247.60 430.66,249.15 431.18,248.83 431.70,247.73 432.22,247.99 432.74,248.76 433.26,248.30 433.78,247.35 434.30,247.13 434.82,246.68 435.34,248.40 435.86,247.15 436.38,246.49 436.90,247.18 437.42,245.76 437.94,248.01 438.46,247.54 438.98,247.36 439.50,247.94 440.02,247.58 440.54,247.30 441.06,247.57 441.58,248.04 442.10,247.98 442.62,247.61 443.14,249.07 443.66,247.35 444.18,248.63 444.70,247.78 445.22,248.62 445.74,247.43 446.26,247.91 446.78,247.79 447.30,248.27 447.82,247.42 448.34,245.94 448.86,249.33 449.38,247.02 449.90,247.31 450.42,247.92 450.94,248.80 451.46,245.96 451.98,247.35 452.50,246.54 453.02,247.90 453.54,248.30 454.06,246.46 454.58,246.80 455.10,247.83 455.62,247.75 456.14,246.92 456.66,248.33 457.18,248.36 457.70,247.58 458.22,246.53 458.74,246.68 459.26,247.35 459.78,246.20 460.30,247.68 460.82,248.02 461.34,245.41 461.86,248.02 462.38,246.94 462.90,246.98 463.42,247.41 463.94,247.31 464.46,246.84 464.98,246.98 465.50,248.11 466.02,247.53 466.54,246.16 467.06,246.81 467.58,247.96 468.10,247.47 468.62,248.51 469.14,248.80 469.66,248.05 470.18,245.94 470.70,248.14 471.22,249.48 471.74,247.64 472.26,248.21 472.78,246.79 473.30,246.30 473.82,247.85 474.34,247.41 474.86,248.41 475.38,246.33 475.90,248.25 476.42,247.50 476.94,245.41 477.46,248.44 477.98,247.36 478.50,247.58 479.02,247.07 479.54,247.06 480.06,246.05 480.58,247.04 481.10,246.93 481.62,248.74 482.14,247.12 482.66,248.84 483.18,246.32 483.70,247.58 484.22,246.57 484.74,248.01 485.26,247.30 485.78,247.44 486.30,246.97 486.82,247.63 487.34,248.10 487.86,247.89 488.38,248.16 488.90,248.43 489.42,248.72 489.94,248.97 490.46,245.66 490.98,248.25 491.50,248.62 492.02,246.54 492.54,247.24 493.06,247.65 493.58,246.40 494.10,245.69 494.62,248.36 495.14,246.12 495.66,246.96 496.18,246.38 496.70,248.05 497.22,245.86 497.74,246.37 498.26,249.67 498.78,246.27 499.30,246.19 499.82,248.89 500.34,247.19 500.86,247.70 501.38,247.30 501.90,248.37 502.42,246.88 502.94,246.79 503.46,247.62 503.98,247.59 504.50,249.23 505.02,246.98 505.54,248.78 506.06,247.50 506.58,248.31 507.10,245.41 507.62,247.52 508.14,246.00 508.66,247.56 509.18,247.56 509.70,246.79 510.22,247.55 510.74,245.41 511.26,247.70 511.78,245.92 512.30,248.70 512.82,248.42 513.34,246.88 513.86,248.88 514.38,245.58 514.90,247.00 515.42,247.44 515.94,245.77 516.46,248.04 516.98,248.26 517.50,249.67 518.02,249.44 518.54,247.82 519.06,249.58 519.58,246.77 520.10,246.55 520.62,247.08 521.14,249.14 521.66,248.38 522.18,248.89 522.70,246.82 523.22,246.50 523.74,247.75 524.26,247.46 524.78,247.30 525.30,246.79 525.82,248.42 526.34,248.47 526.86,246.74 527.38,247.01 527.90,247.04 528.42,247.47 528.94,246.76 529.46,247.05 529.98,248.13 530.50,245.82 531.02,246.44 531.54,247.76 532.06,247.62 532.58,248.24 533.10,248.92 533.62,248.57 534.14,248.95 534.66,248.18 535.18,247.20 535.70,247.59 536.22,248.96 536.74,247.72 537.26,248.16 537.78,248.62 538.30,246.42 538.82,248.57 539.34,246.62 539.86,249.21 540.38,247.25 540.90,248.23 541.42,246.57 541.94,247.12 542.46,248.31 542.98,246.89 543.50,246.25 544.02,246.20 544.54,246.05 545.06,247.88 545.58,245.41 546.10,248.11 546.62,247.66 547.14,249.06 547.66,247.74 548.18,248.97 548.70,247.41 549.22,249.28 549.74,245.66 550.26,246.71 550.78,245.92 551.30,246.34 551.82,247.36 552.34,247.04 552.86,247.32 553.38,249.41 553.90,248.70 554.42,247.91 554.94,246.58 555.46,248.91 555.98,247.33 556.50,248.09 557.02,246.77 557.54,246.76 558.06,248.57 558.58,248.66 559.10,246.04 559.62,246.46 560.14,247.54 560.66,246.68 561.18,247.45 561.70,247.04 562.22,247.91 562.74,246.97 563.26,245.83 563.78,246.05 564.30,246.24 564.82,247.39 565.34,246.54 565.86,247.95 566.38,247.81 566.90,247.37 567.42,248.61 567.94,247.32 568.46,249.25 568.98,245.87 569.50,246.66 570.02,247.21 570.54,248.22 571.06,248.12 571.58,247.91 572.10,249.18 572.62,247.94 573.14,248.43 573.66,246.66 574.18,246.17 574.70,246.05 575.22,248.88 575.74,248.90 576.26,246.07 576.78,246.72 577.30,246.45 577.82,246.84 578.34,247.27 578.86,245.41 579.38,246.64 579.90,246.83 580.42,248.52 580.94,247.36 581.46,246.16 581.98,246.94 582.50,246.59 583.02,247.71 583.54,246.79 584.06,248.09 584.58,247.70 585.10,246.43 585.62,245.80 586.14,247.84 586.66,247.73 587.18,247.75 587.70,247.71 588.22,247.48 588.74,246.63 589.26,247.16 589.78,247.52 590.30,247.06 590.82,249.31 591.34,247.67 591.86,245.52 592.38,248.55 592.90,248.11 593.42,247.25 593.94,246.50 594.46,247.78 594.98,248.58 595.50,245.96 596.02,249.67 596.54,248.43 597.06,248.28 597.58,249.67 598.10,246.15 598.62,245.54 599.14,249.05 599.66,247.94 600.18,247.78 600.70,246.82 601.22,247.72 601.74,246.94 602.26,247.04 602.78,247.66 603.30,247.47 603.82,246.10 604.34,247.34 604.86,246.86 605.38,247.55 605.90,246.80 606.42,245.87 606.94,247.43 607.46,248.01 607.98,248.27 608.50,246.49 609.02,248.31 609.54,247.05 610.06,245.41 610.58,247.30 611.10,245.70 611.62,247.51 612.14,247.61 612.66,246.93 613.18,248.41 613.70,249.67 614.22,247.57 614.74,248.26 615.26,247.31 615.78,245.53 616.30,246.89 616.82,249.07 617.34,247.09 617.86,249.33 618.38,249.67 618.90,245.41 619.42,248.47 619.94,249.67 620.46,247.60 620.98,247.72 621.50,247.05 622.02,247.69 622.54,247.73 623.06,246.65 623.58,247.69 624.10,248.29 624.62,247.15 625.14,248.10 625.66,246.41 626.18,247.48 626.70,247.70 627.22,247.96 627.74,246.90 628.26,246.48 628.78,247.82 629.30,249.67 629.82,246.72 630.34,248.30 630.86,246.89 631.38,248.14 631.90,247.10"/>
<polyline fill="none" stroke="#c2c2c2" stroke-width="1.1" stroke-linejoin="bevel" points="414.02,259.17 414.54,259.27 415.06,259.28 415.58,259.55 416.10,259.16 416.62,259.26 417.14,258.69 417.66,259.78 418.18,258.18 418.70,260.32 419.22,259.22 419.74,258.79 420.26,259.36 420.78,259.65 421.30,259.28 421.82,258.89 422.34,258.60 422.86,260.06 423.38,259.14 423.90,259.59 424.42,258.71 424.94,259.53 425.46,259.18 425.98,258.69 426.50,259.43 427.02,259.15 427.54,259.69 428.06,259.44 428.58,260.31 429.10,259.75 429.62,259.57 430.14,259.66 430.66,258.18 431.18,260.32 431.70,260.32 432.22,259.17 432.74,258.97 433.26,259.22 433.78,258.69 434.30,258.19 434.82,259.55 435.34,260.00 435.86,259.38 436.38,258.67 436.90,259.07 437.42,259.40 437.94,259.13 438.46,259.14 438.98,260.20 439.50,259.06 440.02,259.73 440.54,259.42 441.06,259.57 441.58,259.25 442.10,258.80 442.62,259.40 443.14,259.21 443.66,258.81 444.18,259.05 444.70,259.65 445.22,258.87 445.74,259.51 446.26,259.44 446.78,259.18 447.30,258.49 447.82,259.75 448.34,259.50 448.86,259.21 449.38,259.74 449.90,259.23 450.42,258.63 450.94,260.23 451.46,259.27 451.98,259.67 452.50,258.21 453.02,258.97 453.54,258.97 454.06,259.35 454.58,259.83 455.10,259.25 455.62,259.10 456.14,259.27 456.66,258.34 457.18,258.88 457.70,259.76 458.22,259.49 458.74,259.13 459.26,259.92 459.78,259.39 460.30,259.61 460.82,259.19 461.34,259.22 461.86,259.62 462.38,258.61 462.90,259.59 463.42,258.93 463.94,259.83 464.46,259.79 464.98,259.61 465.50,259.50 466.02,258.85 466.54,260.07 467.06,258.41 467.58,259.91 468.10,258.50 468.62,259.18 469.14,259.54 469.66,258.84 470.18,259.53 470.70,259.28 471.22,259.24 471.74,258.18 472.26,259.80 472.78,258.27 473.30,259.43 473.82,259.65 474.34,259.54 474.86,258.62 475.38,259.39 475.90,259.69 476.42,258.96 476.94,259.14 477.46,258.72 477.98,259.88 478.50,258.50 479.02,258.64 479.54,259.66 480.06,259.46 480.58,259.04 481.10,259.41 481.62,258.87 482.14,258.98 482.66,259.30 483.18,259.89 483.70,260.32 484.22,259.14 484.74,259.95 485.26,258.70 485.78,258.36 486.30,259.22 486.82,258.83 487.34,258.64 487.86,258.86 488.38,259.88 488.90,259.81 489.42,259.55 489.94,259.25 490.46,259.74 490.98,259.18 491.50,258.61 492.02,259.50 492.54,259.28 493.06,259.81 493.58,259.36 494.10,258.81 494.62,258.59 495.14,259.17 495.66,259.70 496.18,258.26 496.70,260.32 497.22,259.52 497.74,259.69 498.26,259.29 498.78,258.98 499.30,259.52 499.82,258.18 500.34,258.20 500.86,258.83 501.38,259.54 501.90,260.09 502.42,258.66 502.94,258.82 503.46,259.04 503.98,258.52 504.50,259.03 505.02,260.03 505.54,260.28 506.06,259.48 506.58,259.21 507.10,258.96 507.62,259.14 508.14,259.38 508.66,259.71 509.18,258.99 509.70,258.90 510.22,259.59 510.74,259.79 511.26,259.50 511.78,259.82 512.30,259.17 512.82,259.92 513.34,259.11 513.86,259.73 514.38,259.03 514.90,258.18 515.42,259.88 515.94,259.23 516.46,258.18 516.98,258.80 517.50,259.18 518.02,259.00 518.54,259.43 519.06,260.04 519.58,260.32 520.10,259.68 520.62,259.61 521.14,258.70 521.66,259.14 522.18,260.12 522.70,259.05 523.22,259.96 523.74,258.67 524.26,259.85 524.78,258.85 525.30,259.23 525.82,259.56 526.34,258.72 526.86,259.41 527.38,260.32 527.90,259.07 528.42,259.80 528.94,259.52 529.46,259.17 529.98,258.90 530.50,259.21 531.02,259.85 531.54,259.67 532.06,259.91 532.58,259.43 533.10,259.66 533.62,258.89 534.14,259.67 534.66,258.79 535.18,258.34 535.70,259.04 536.22,259.40 536.74,258.67 537.26,259.76 537.78,259.33 538.30,258.59 538.82,258.99 539.34,259.39 539.86,259.45 540.38,259.57 540.90,258.51 541.42,258.25 541.94,258.51 542.46,259.27 542.98,259.12 543.50,259.74 544.02,259.88 544.54,258.94 545.06,258.94 545.58,259.98 546.10,259.95 546.62,259.11 547.14,260.01 547.66,258.72 548.18,258.65 548.70,259.89 549.22,259.47 549.74,258.80 550.26,258.76 550.78,259.31 551.30,259.37 551.82,259.45 552.34,259.00 552.86,258.98 553.38,259.42 553.90,259.57 554.42,259.36 554.94,259.41 555.46,259.53 555.98,259.99 556.50,259.27 557.02,258.87 557.54,259.25 558.06,258.66 558.58,259.10 559.10,258.91 559.62,258.85 560.14,260.32 560.66,258.92 561.18,258.73 561.70,259.92 562.22,260.29 562.74,259.83 563.26,259.48 563.78,259.13 564.30,260.14 564.82,259.42 565.34,259.94 565.86,259.19 566.38,259.39 566.90,259.21 567.42,259.61 567.94,259.56 568.46,258.85 568.98,259.92 569.50,259.33 570.02,259.63 570.54,259.48 571.06,259.73 571.58,258.68 572.10,258.80 572.62,259.46 573.14,258.26 573.66,259.20 574.18,258.51 574.70,259.88 575.22,259.60 575.74,259.65 576.26,258.20 576.78,258.79 577.30,259.49 577.82,259.15 578.34,259.36 578.86,259.36 579.38,259.78 579.90,258.81 580.42,259.09 580.94,259.70 581.46,259.09 581.98,258.81 582.50,259.15 583.02,259.45 583.54,258.95 584.06,258.89 584.58,258.25 585.10,259.56 585.62,259.09 586.14,259.28 586.66,259.53 587.18,259.25 587.70,260.02 588.22,259.71 588.74,260.02 589.26,259.16 589.78,259.50 590.30,259.80 590.82,259.54 591.34,259.01 591.86,259.51 592.38,260.32 592.90,258.18 593.42,259.48 593.94,258.82 594.46,259.86 594.98,259.51 595.50,259.24 596.02,259.15 596.54,259.56 597.06,258.34 597.58,259.67 598.10,259.48 598.62,258.18 599.14,259.21 599.66,260.18 600.18,258.94 600.70,258.99 601.22,258.57 601.74,258.25 602.26,259.23 602.78,258.70 603.30,259.24 603.82,259.76 604.34,259.73 604.86,259.77 605.38,260.09 605.90,258.45 606.42,259.66 606.94,259.98 607.46,259.33 607.98,259.95 608.50,258.70 609.02,258.27 609.54,259.03 610.06,259.33 610.58,259.47 611.10,259.01 611.62,258.80 612.14,258.76 612.66,259.50 613.18,259.14 613.70,260.03 614.22,259.16 614.74,258.77 615.26,258.70 615.78,259.77 616.30,260.06 616.82,258.20 617.34,259.26 617.86,259.40 618.38,259.10 618.90,259.40 619.42,258.98 619.94,258.96 620.46,259.64 620.98,260.01 621.50,259.55 622.02,260.32 622.54,258.81 623.06,259.62 623.58,259.82 624.10,259.06 624.62,258.92 625.14,259.46 625.66,259.76 626.18,260.17 626.70,259.75 627.22,259.68 627.74,260.12 628.26,259.38 628.78,259.11 629.30,259.44 629.82,258.18 630.34,259.23 630.86,258.99 631.38,258.18 631.90,258.38"/>
<polyline fill="none" stroke="#c2c2c2" stroke-width="1.1" stroke-linejoin="bevel" points="414.02,268.07 414.54,267.57 415.06,268.13 415.58,267.67 416.10,268.22 416.62,267.59 417.14,267.86 417.66,267.40 418.18,267.57 418.70,267.82 419.22,267.93 419.74,267.69 420.26,267.85 420.78,268.11 421.30,267.65 421.82,268.49 422.34,267.85 422.86,267.18 423.38,267.67 423.90,268.27 424.42,267.50 424.94,267.78 425.46,268.02 425.98,268.03 426.50,267.80 427.02,267.57 427.54,267.87 428.06,267.29 428.58,268.03 429.10,267.57 429.62,268.31 430.14,268.43 430.66,267.86 431.18,267.75 431.70,267.26 432.22,267.93 432.74,267.74 433.26,268.21 433.78,267.82 434.30,267.66 434.82,267.95 435.34,267.51 435.86,267.39 436.38,267.64 436.90,267.85 437.42,267.89 437.94,267.64 438.46,268.14 438.98,267.53 439.50,268.01 440.02,267.74 440.54,268.17 441.06,268.12 441.58,268.08 442.10,267.67 442.62,267.81 443.14,267.80 443.66,267.52 444.18,268.10 444.70,267.55 445.22,268.01 445.74,268.10 446.26,268.00 446.78,267.50 447.30,267.32 447.82,268.00 448.34,268.16 448.86,268.32 449.38,267.82 449.90,267.70 450.42,267.71 450.94,267.75 451.46,267.40 451.98,267.81 452.50,267.70 453.02,267.91 453.54,268.13 454.06,268.49 454.58,267.82 455.10,268.02 455.62,267.99 456.14,268.02 456.66,267.82 457.18,267.80 457.70,268.49 458.22,267.95 458.74,267.70 459.26,267.73 459.78,267.91 460.30,267.78 460.82,268.33 461.34,267.73 461.86,267.92 462.38,267.82 462.90,267.63 463.42,267.80 463.94,268.19 464.46,268.46 464.98,267.98 465.50,267.84 466.02,267.77 466.54,267.52 467.06,267.72 467.58,267.74 468.10,268.39 468.62,267.60 469.14,267.79 469.66,267.19 470.18,267.60 470.70,268.07 471.22,267.81 471.74,267.64 472.26,268.13 472.78,268.35 473.30,267.70 473.82,268.00 474.34,267.90 474.86,267.81 475.38,267.93 475.90,267.59 476.42,267.75 476.94,267.75 477.46,267.57 477.98,267.85 478.50,268.22 479.02,267.84 479.54,268.25 480.06,267.77 480.58,268.20 481.10,267.84 481.62,267.45 482.14,267.63 482.66,268.08 483.18,268.28 483.70,267.97 484.22,267.52 484.74,267.66 485.26,268.31 485.78,267.57 486.30,267.75 486.82,267.61 487.34,267.41 487.86,268.09 488.38,267.66 488.90,267.78 489.42,267.50 489.94,267.93 490.46,268.27 490.98,267.78 491.50,267.53 492.02,267.91 492.54,267.91 493.06,267.78 493.58,267.88 494.10,267.96 494.62,267.96 495.14,267.38 495.66,267.97 496.18,267.78 496.70,267.47 497.22,267.49 497.74,268.34 498.26,268.07 498.78,268.22 499.30,267.87 499.82,268.49 500.34,268.27 500.86,267.88 501.38,267.73 501.90,268.19 502.42,267.76 502.94,267.43 503.46,268.13 503.98,267.44 504.50,267.85 505.02,268.49 505.54,267.79 506.06,267.80 506.58,267.38 507.10,268.05 507.62,267.27 508.14,267.85 508.66,267.66 509.18,267.89 509.70,267.67 510.22,267.44 510.74,267.83 511.26,267.99 511.78,267.62 512.30,267.91 512.82,267.74 513.34,267.52 513.86,267.78 514.38,267.72 514.90,267.77 515.42,267.80 515.94,267.56 516.46,267.46 516.98,267.74 517.50,268.37 518.02,268.29 518.54,267.58 519.06,267.37 519.58,267.42 520.10,267.97 520.62,267.75 521.14,267.99 521.66,267.70 522.18,267.85 522.70,268.14 523.22,267.64 523.74,267.82 524.26,267.18 524.78,267.47 525.30,268.30 525.82,267.55 526.34,268.11 526.86,268.02 527.38,267.88 527.90,268.23 528.42,267.18 528.94,267.57 529.46,268.10 529.98,267.47 530.50,268.49 531.02,267.44 531.54,267.79 532.06,267.75 532.58,267.53 533.10,267.75 533.62,267.64 534.14,268.12 534.66,267.68 535.18,267.91 535.70,267.65 536.22,267.88 536.74,267.68 537.26,267.98 537.78,268.21 538.30,268.05 538.82,267.52 539.34,267.90 539.86,267.78 540.38,267.92 540.90,267.53 541.42,268.06 541.94,268.49 542.46,268.03 542.98,268.01 543.50,267.44 544.02,268.07 544.54,267.98 545.06,267.64 545.58,267.57 546.10,267.93 546.62,267.42 547.14,267.95 547.66,267.77 548.18,268.10 548.70,268.49 549.22,268.03 549.74,268.01 550.26,268.10 550.78,267.18 551.30,268.31 551.82,267.67 552.34,267.33 552.86,267.58 553.38,267.65 553.90,267.99 554.42,268.00 554.94,267.41 555.46,267.31 555.98,268.00 556.50,267.69 557.02,267.82 557.54,267.60 558.06,268.04 558.58,267.51 559.10,267.94 559.62,267.73 560.14,268.03 560.66,267.49 561.18,267.92 561.70,267.63 562.22,267.83 562.74,267.56 563.26,267.68 563.78,267.18 564.30,268.06 564.82,267.55 565.34,267.98 565.86,267.78 566.38,268.35 566.90,267.43 567.42,268.49 567.94,267.57 568.46,268.30 568.98,267.92 569.50,267.66 570.02,268.06 570.54,267.71 571.06,267.84 571.58,268.02 572.10,267.69 572.62,267.35 573.14,267.71 573.66,267.81 574.18,267.78 574.70,267.84 575.22,267.42 575.74,267.54 576.26,267.86 576.78,267.69 577.30,268.13 577.82,267.83 578.34,267.72 578.86,267.84 579.38,267.85 579.90,267.51 580.42,267.60 580.94,267.62 581.46,268.49 581.98,267.77 582.50,268.04 583.02,268.01 583.54,267.80 584.06,267.64 584.58,268.43 585.10,267.33 585.62,267.66 586.14,267.87 586.66,268.16 587.18,268.26 587.70,267.37 588.22,268.08 588.74,267.93 589.26,267.94 589.78,267.90 590.30,267.18 590.82,267.29 591.34,268.18 591.86,268.12 592.38,267.37 592.90,267.76 593.42,268.14 593.94,268.02 594.46,267.54 594.98,267.90 595.50,267.85 596.02,267.18 596.54,267.68 597.06,268.11 597.58,267.66 598.10,268.16 598.62,268.04 599.14,267.96 599.66,268.20 600.18,267.75 600.70,267.83 601.22,267.86 601.74,267.54 602.26,267.47 602.78,267.87 603.30,267.43 603.82,267.40 604.34,267.97 604.86,267.54 605.38,268.17 605.90,268.21 606.42,267.83 606.94,267.52 607.46,267.18 607.98,267.79 608.50,267.43 609.02,268.24 609.54,267.72 610.06,267.42 610.58,268.00 611.10,267.76 611.62,267.69 612.14,267.22 612.66,268.17 613.18,268.10 613.70,267.57 614.22,267.52 614.74,267.67 615.26,267.97 615.78,267.77 616.30,267.18 616.82,267.89 617.34,267.50 617.86,267.40 618.38,268.09 618.90,267.95 619.42,267.58 619.94,267.84 620.46,267.75 620.98,268.01 621.50,267.86 622.02,267.86 622.54,267.25 623.06,267.75 623.58,267.75 624.10,267.42 624.62,267.70 625.14,267.83 625.66,267.59 626.18,268.34 626.70,267.90 627.22,267.73 627.74,267.86 628.26,267.87 628.78,267.79 629.30,268.12 629.82,267.47 630.34,268.01 630.86,267.56 631.38,268.14 631.90,267.18"/>
<polygon points="423.90,157.90 429.50,157.90 426.70,152.90" fill="#e8202a"/>
<polygon points="446.60,196.00 452.20,196.00 449.40,191.00" fill="#e8202a"/>
<polygon points="546.60,235.70 552.20,235.70 549.40,230.70" fill="#e8202a"/>
<polygon points="491.50,253.90 497.10,253.90 494.30,248.90" fill="#e8202a"/>
<polygon points="474.30,88.05 480.60,88.05 477.45,82.75" fill="#e8202a"/>
<text x="484.00" y="88.60" font-size="10" text-anchor="start" fill="#2e2e2e">Matched sample</text>
<text x="654.00" y="138.40" font-size="10" text-anchor="middle" fill="#2e2e2e">10%</text>
<text x="654.00" y="183.10" font-size="10" text-anchor="middle" fill="#2e2e2e">20%</text>
<text x="654.00" y="224.70" font-size="10" text-anchor="middle" fill="#2e2e2e">40%</text>
<text x="654.00" y="248.90" font-size="10" text-anchor="middle" fill="#2e2e2e">60%</text>
<text x="654.00" y="261.30" font-size="10" text-anchor="middle" fill="#2e2e2e">80%</text>
<text x="654.00" y="273.20" font-size="10" text-anchor="middle" fill="#2e2e2e">100%</text>
<text x="653.80" y="85.20" font-size="10" text-anchor="middle" fill="#2e2e2e">Samples</text>
<text x="653.80" y="95.70" font-size="10" text-anchor="middle" fill="#2e2e2e">being shuffled</text>
<text x="654.00" y="106.30" font-size="10" text-anchor="middle" fill="#2e2e2e">(%)</text>
<polyline points="405.6,36.2 405.6,277.0 641.6,277.0" fill="none" stroke="#111" stroke-width="1.4"/>
<line x1="401.00" y1="269.40" x2="405.60" y2="269.40" stroke="#111" stroke-width="1.2"/>
<text x="394.30" y="272.50" font-size="12.2" text-anchor="end" fill="#2e2e2e">0</text>
<line x1="401.00" y1="230.36" x2="405.60" y2="230.36" stroke="#111" stroke-width="1.2"/>
<text x="394.30" y="231.10" font-size="12.2" text-anchor="end" fill="#2e2e2e">1</text>
<line x1="401.00" y1="191.32" x2="405.60" y2="191.32" stroke="#111" stroke-width="1.2"/>
<text x="394.30" y="193.60" font-size="12.2" text-anchor="end" fill="#2e2e2e">2</text>
<line x1="401.00" y1="152.28" x2="405.60" y2="152.28" stroke="#111" stroke-width="1.2"/>
<text x="394.30" y="155.40" font-size="12.2" text-anchor="end" fill="#2e2e2e">3</text>
<line x1="401.00" y1="113.24" x2="405.60" y2="113.24" stroke="#111" stroke-width="1.2"/>
<text x="394.30" y="117.80" font-size="12.2" text-anchor="end" fill="#2e2e2e">4</text>
<line x1="401.00" y1="74.20" x2="405.60" y2="74.20" stroke="#111" stroke-width="1.2"/>
<text x="394.30" y="78.90" font-size="12.2" text-anchor="end" fill="#2e2e2e">5</text>
<line x1="413.50" y1="277.00" x2="413.50" y2="281.40" stroke="#111" stroke-width="1.2"/>
<text x="413.50" y="298.50" font-size="12.5" text-anchor="middle" fill="#2e2e2e">0</text>
<line x1="465.50" y1="277.00" x2="465.50" y2="281.40" stroke="#111" stroke-width="1.2"/>
<text x="465.50" y="298.50" font-size="12.5" text-anchor="middle" fill="#2e2e2e">100</text>
<line x1="517.50" y1="277.00" x2="517.50" y2="281.40" stroke="#111" stroke-width="1.2"/>
<text x="517.50" y="298.50" font-size="12.5" text-anchor="middle" fill="#2e2e2e">200</text>
<line x1="569.50" y1="277.00" x2="569.50" y2="281.40" stroke="#111" stroke-width="1.2"/>
<text x="569.50" y="298.50" font-size="12.5" text-anchor="middle" fill="#2e2e2e">300</text>
<line x1="621.50" y1="277.00" x2="621.50" y2="281.40" stroke="#111" stroke-width="1.2"/>
<text x="621.50" y="298.50" font-size="12.5" text-anchor="middle" fill="#2e2e2e">400</text>
<text x="545.70" y="316.80" font-size="12.5" text-anchor="middle" fill="#2e2e2e">Samples</text>
<text x="369.20" y="166.80" font-size="12.3" text-anchor="middle" fill="#2e2e2e" transform="rotate(-90 369.20 166.80)">Cscore</text>
<text x="-1.00" y="360.40" font-size="23" text-anchor="start" fill="#2e2e2e">c</text>
<circle cx="234.15" cy="629.26" r="1.7" fill="#1bb8c0"/>
<circle cx="271.10" cy="634.59" r="1.7" fill="#1bb8c0"/>
<circle cx="267.25" cy="634.11" r="1.7" fill="#1bb8c0"/>
<circle cx="256.27" cy="632.67" r="1.7" fill="#1bb8c0"/>
<circle cx="237.74" cy="629.87" r="1.7" fill="#1bb8c0"/>
<circle cx="278.35" cy="635.44" r="1.7" fill="#1bb8c0"/>
<circle cx="279.42" cy="635.56" r="1.7" fill="#1bb8c0"/>
<circle cx="258.62" cy="632.99" r="1.7" fill="#1bb8c0"/>
<circle cx="258.10" cy="632.92" r="1.7" fill="#1bb8c0"/>
<circle cx="239.15" cy="630.10" r="1.7" fill="#1bb8c0"/>
<circle cx="222.75" cy="627.19" r="1.7" fill="#1bb8c0"/>
<circle cx="248.66" cy="631.58" r="1.7" fill="#1bb8c0"/>
<circle cx="263.75" cy="633.67" r="1.7" fill="#1bb8c0"/>
<circle cx="227.41" cy="628.07" r="1.7" fill="#1bb8c0"/>
<circle cx="278.43" cy="635.45" r="1.7" fill="#1bb8c0"/>
<circle cx="238.89" cy="630.06" r="1.7" fill="#1bb8c0"/>
<circle cx="238.92" cy="630.06" r="1.7" fill="#1bb8c0"/>
<circle cx="225.51" cy="627.71" r="1.7" fill="#1bb8c0"/>
<circle cx="292.78" cy="636.98" r="1.7" fill="#1bb8c0"/>
<circle cx="274.55" cy="635.00" r="1.7" fill="#1bb8c0"/>
<circle cx="284.15" cy="636.08" r="1.7" fill="#1bb8c0"/>
<circle cx="265.90" cy="633.95" r="1.7" fill="#1bb8c0"/>
<circle cx="224.93" cy="627.60" r="1.7" fill="#1bb8c0"/>
<circle cx="245.69" cy="631.13" r="1.7" fill="#1bb8c0"/>
<circle cx="257.57" cy="632.85" r="1.7" fill="#1bb8c0"/>
<circle cx="230.69" cy="628.66" r="1.7" fill="#1bb8c0"/>
<circle cx="289.57" cy="636.65" r="1.7" fill="#1bb8c0"/>
<circle cx="248.48" cy="631.55" r="1.7" fill="#1bb8c0"/>
<circle cx="233.43" cy="629.14" r="1.7" fill="#1bb8c0"/>
<circle cx="280.10" cy="635.63" r="1.7" fill="#1bb8c0"/>
<circle cx="231.32" cy="628.77" r="1.7" fill="#1bb8c0"/>
<circle cx="287.88" cy="636.48" r="1.7" fill="#1bb8c0"/>
<circle cx="254.44" cy="632.42" r="1.7" fill="#1bb8c0"/>
<circle cx="261.40" cy="633.36" r="1.7" fill="#1bb8c0"/>
<circle cx="246.68" cy="631.28" r="1.7" fill="#1bb8c0"/>
<circle cx="256.66" cy="632.73" r="1.7" fill="#1bb8c0"/>
<circle cx="235.69" cy="629.53" r="1.7" fill="#1bb8c0"/>
<circle cx="225.15" cy="627.64" r="1.7" fill="#1bb8c0"/>
<circle cx="283.51" cy="636.01" r="1.7" fill="#1bb8c0"/>
<circle cx="239.07" cy="630.09" r="1.7" fill="#1bb8c0"/>
<circle cx="277.48" cy="635.34" r="1.7" fill="#1bb8c0"/>
<circle cx="237.22" cy="629.78" r="1.7" fill="#1bb8c0"/>
<circle cx="290.75" cy="636.78" r="1.7" fill="#1bb8c0"/>
<circle cx="285.48" cy="636.22" r="1.7" fill="#1bb8c0"/>
<circle cx="275.68" cy="635.13" r="1.7" fill="#1bb8c0"/>
<circle cx="276.25" cy="635.20" r="1.7" fill="#1bb8c0"/>
<circle cx="263.43" cy="633.63" r="1.7" fill="#1bb8c0"/>
<circle cx="273.92" cy="634.92" r="1.7" fill="#1bb8c0"/>
<circle cx="231.15" cy="628.74" r="1.7" fill="#1bb8c0"/>
<circle cx="256.07" cy="632.64" r="1.7" fill="#1bb8c0"/>
<circle cx="280.77" cy="635.71" r="1.7" fill="#1bb8c0"/>
<circle cx="236.69" cy="629.70" r="1.7" fill="#1bb8c0"/>
<circle cx="287.54" cy="636.44" r="1.7" fill="#1bb8c0"/>
<circle cx="285.03" cy="636.18" r="1.7" fill="#1bb8c0"/>
<circle cx="251.37" cy="631.98" r="1.7" fill="#1bb8c0"/>
<circle cx="248.25" cy="631.52" r="1.7" fill="#1bb8c0"/>
<circle cx="254.31" cy="632.40" r="1.7" fill="#1bb8c0"/>
<circle cx="249.70" cy="631.73" r="1.7" fill="#1bb8c0"/>
<circle cx="292.59" cy="636.96" r="1.7" fill="#1bb8c0"/>
<circle cx="249.75" cy="631.74" r="1.7" fill="#1bb8c0"/>
<circle cx="224.42" cy="627.51" r="1.7" fill="#1bb8c0"/>
<circle cx="229.10" cy="628.37" r="1.7" fill="#1bb8c0"/>
<circle cx="273.10" cy="634.83" r="1.7" fill="#1bb8c0"/>
<circle cx="292.44" cy="636.95" r="1.7" fill="#1bb8c0"/>
<circle cx="257.46" cy="632.83" r="1.7" fill="#1bb8c0"/>
<circle cx="257.14" cy="632.79" r="1.7" fill="#1bb8c0"/>
<circle cx="261.29" cy="633.35" r="1.7" fill="#1bb8c0"/>
<circle cx="275.22" cy="635.08" r="1.7" fill="#1bb8c0"/>
<circle cx="238.17" cy="629.94" r="1.7" fill="#1bb8c0"/>
<circle cx="265.41" cy="633.88" r="1.7" fill="#1bb8c0"/>
<circle cx="261.72" cy="633.41" r="1.7" fill="#1bb8c0"/>
<circle cx="266.38" cy="634.00" r="1.7" fill="#1bb8c0"/>
<circle cx="235.25" cy="629.45" r="1.7" fill="#1bb8c0"/>
<circle cx="234.51" cy="629.33" r="1.7" fill="#1bb8c0"/>
<circle cx="247.05" cy="631.34" r="1.7" fill="#1bb8c0"/>
<circle cx="287.81" cy="636.47" r="1.7" fill="#1bb8c0"/>
<circle cx="246.94" cy="631.32" r="1.7" fill="#1bb8c0"/>
<circle cx="264.59" cy="633.78" r="1.7" fill="#1bb8c0"/>
<circle cx="244.12" cy="630.89" r="1.7" fill="#1bb8c0"/>
<circle cx="229.80" cy="628.50" r="1.7" fill="#1bb8c0"/>
<circle cx="227.15" cy="628.02" r="1.7" fill="#1bb8c0"/>
<circle cx="279.83" cy="635.60" r="1.7" fill="#1bb8c0"/>
<circle cx="277.25" cy="635.31" r="1.7" fill="#1bb8c0"/>
<circle cx="248.93" cy="631.62" r="1.7" fill="#1bb8c0"/>
<circle cx="270.65" cy="634.53" r="1.7" fill="#1bb8c0"/>
<circle cx="270.13" cy="634.47" r="1.7" fill="#1bb8c0"/>
<circle cx="285.82" cy="636.26" r="1.7" fill="#1bb8c0"/>
<circle cx="290.01" cy="636.70" r="1.7" fill="#1bb8c0"/>
<circle cx="251.19" cy="631.95" r="1.7" fill="#1bb8c0"/>
<circle cx="292.18" cy="636.92" r="1.7" fill="#1bb8c0"/>
<circle cx="290.23" cy="636.72" r="1.7" fill="#1bb8c0"/>
<circle cx="264.11" cy="633.72" r="1.7" fill="#1bb8c0"/>
<circle cx="284.72" cy="636.14" r="1.7" fill="#1bb8c0"/>
<circle cx="257.10" cy="632.79" r="1.7" fill="#1bb8c0"/>
<circle cx="248.98" cy="631.63" r="1.7" fill="#1bb8c0"/>
<circle cx="239.94" cy="630.23" r="1.7" fill="#1bb8c0"/>
<circle cx="284.23" cy="636.09" r="1.7" fill="#1bb8c0"/>
<circle cx="233.96" cy="629.23" r="1.7" fill="#1bb8c0"/>
<circle cx="227.41" cy="628.07" r="1.7" fill="#1bb8c0"/>
<circle cx="279.24" cy="635.54" r="1.7" fill="#1bb8c0"/>
<circle cx="277.03" cy="635.29" r="1.7" fill="#1bb8c0"/>
<circle cx="256.56" cy="632.71" r="1.7" fill="#1bb8c0"/>
<circle cx="281.47" cy="635.79" r="1.7" fill="#1bb8c0"/>
<circle cx="226.20" cy="627.84" r="1.7" fill="#1bb8c0"/>
<circle cx="240.70" cy="630.35" r="1.7" fill="#1bb8c0"/>
<circle cx="242.94" cy="630.71" r="1.7" fill="#1bb8c0"/>
<circle cx="252.07" cy="632.08" r="1.7" fill="#1bb8c0"/>
<circle cx="234.55" cy="629.33" r="1.7" fill="#1bb8c0"/>
<circle cx="227.42" cy="628.07" r="1.7" fill="#1bb8c0"/>
<circle cx="246.34" cy="631.23" r="1.7" fill="#1bb8c0"/>
<circle cx="285.85" cy="636.26" r="1.7" fill="#1bb8c0"/>
<circle cx="291.78" cy="636.88" r="1.7" fill="#1bb8c0"/>
<circle cx="275.05" cy="635.06" r="1.7" fill="#1bb8c0"/>
<circle cx="256.26" cy="632.67" r="1.7" fill="#1bb8c0"/>
<circle cx="240.29" cy="630.29" r="1.7" fill="#1bb8c0"/>
<circle cx="290.05" cy="636.70" r="1.7" fill="#1bb8c0"/>
<circle cx="259.54" cy="633.12" r="1.7" fill="#1bb8c0"/>
<circle cx="273.84" cy="634.92" r="1.7" fill="#1bb8c0"/>
<circle cx="224.52" cy="627.52" r="1.7" fill="#1bb8c0"/>
<circle cx="237.47" cy="629.82" r="1.7" fill="#1bb8c0"/>
<circle cx="281.56" cy="635.80" r="1.7" fill="#1bb8c0"/>
<circle cx="278.53" cy="635.46" r="1.7" fill="#1bb8c0"/>
<circle cx="284.60" cy="636.13" r="1.7" fill="#1bb8c0"/>
<circle cx="264.88" cy="633.81" r="1.7" fill="#1bb8c0"/>
<circle cx="252.53" cy="632.15" r="1.7" fill="#1bb8c0"/>
<circle cx="263.45" cy="633.63" r="1.7" fill="#1bb8c0"/>
<circle cx="282.34" cy="635.88" r="1.7" fill="#1bb8c0"/>
<circle cx="244.22" cy="630.91" r="1.7" fill="#1bb8c0"/>
<circle cx="260.16" cy="633.20" r="1.7" fill="#1bb8c0"/>
<circle cx="241.96" cy="630.55" r="1.7" fill="#1bb8c0"/>
<circle cx="276.63" cy="635.24" r="1.7" fill="#1bb8c0"/>
<circle cx="223.25" cy="627.28" r="1.7" fill="#1bb8c0"/>
<circle cx="270.79" cy="634.55" r="1.7" fill="#1bb8c0"/>
<circle cx="289.71" cy="636.67" r="1.7" fill="#1bb8c0"/>
<circle cx="224.18" cy="627.46" r="1.7" fill="#1bb8c0"/>
<circle cx="264.34" cy="633.75" r="1.7" fill="#1bb8c0"/>
<circle cx="267.87" cy="634.19" r="1.7" fill="#1bb8c0"/>
<circle cx="282.51" cy="635.90" r="1.7" fill="#1bb8c0"/>
<circle cx="263.68" cy="633.66" r="1.7" fill="#1bb8c0"/>
<circle cx="240.64" cy="630.34" r="1.7" fill="#1bb8c0"/>
<circle cx="251.09" cy="631.94" r="1.7" fill="#1bb8c0"/>
<circle cx="290.04" cy="636.70" r="1.7" fill="#1bb8c0"/>
<circle cx="286.30" cy="636.31" r="1.7" fill="#1bb8c0"/>
<circle cx="231.93" cy="628.88" r="1.7" fill="#1bb8c0"/>
<circle cx="229.21" cy="628.39" r="1.7" fill="#1bb8c0"/>
<circle cx="229.15" cy="628.38" r="1.7" fill="#1bb8c0"/>
<circle cx="224.31" cy="627.48" r="1.7" fill="#1bb8c0"/>
<circle cx="254.00" cy="632.35" r="1.7" fill="#1bb8c0"/>
<circle cx="232.45" cy="628.97" r="1.7" fill="#1bb8c0"/>
<circle cx="283.61" cy="636.02" r="1.7" fill="#1bb8c0"/>
<circle cx="268.68" cy="634.29" r="1.7" fill="#1bb8c0"/>
<circle cx="231.44" cy="628.79" r="1.7" fill="#1bb8c0"/>
<circle cx="260.46" cy="633.24" r="1.7" fill="#1bb8c0"/>
<circle cx="245.37" cy="631.08" r="1.7" fill="#1bb8c0"/>
<circle cx="257.31" cy="632.81" r="1.7" fill="#1bb8c0"/>
<circle cx="237.99" cy="629.91" r="1.7" fill="#1bb8c0"/>
<circle cx="234.23" cy="629.28" r="1.7" fill="#1bb8c0"/>
<circle cx="235.48" cy="629.49" r="1.7" fill="#1bb8c0"/>
<circle cx="249.14" cy="631.65" r="1.7" fill="#1bb8c0"/>
<circle cx="272.53" cy="634.76" r="1.7" fill="#1bb8c0"/>
<circle cx="261.26" cy="633.35" r="1.7" fill="#1bb8c0"/>
<circle cx="225.78" cy="627.76" r="1.7" fill="#1bb8c0"/>
<circle cx="272.59" cy="634.77" r="1.7" fill="#1bb8c0"/>
<circle cx="284.07" cy="636.07" r="1.7" fill="#1bb8c0"/>
<circle cx="277.05" cy="635.29" r="1.7" fill="#1bb8c0"/>
<circle cx="278.21" cy="635.42" r="1.7" fill="#1bb8c0"/>
<circle cx="223.08" cy="627.25" r="1.7" fill="#1bb8c0"/>
<circle cx="255.20" cy="632.52" r="1.7" fill="#1bb8c0"/>
<circle cx="227.00" cy="627.99" r="1.7" fill="#1bb8c0"/>
<circle cx="276.33" cy="635.21" r="1.7" fill="#1bb8c0"/>
<circle cx="234.87" cy="629.39" r="1.7" fill="#1bb8c0"/>
<circle cx="272.63" cy="634.77" r="1.7" fill="#1bb8c0"/>
<circle cx="240.34" cy="630.29" r="1.7" fill="#1bb8c0"/>
<circle cx="271.59" cy="634.65" r="1.7" fill="#1bb8c0"/>
<circle cx="244.61" cy="630.97" r="1.7" fill="#1bb8c0"/>
<circle cx="225.48" cy="627.71" r="1.7" fill="#1bb8c0"/>
<circle cx="249.91" cy="631.77" r="1.7" fill="#1bb8c0"/>
<circle cx="244.32" cy="630.92" r="1.7" fill="#1bb8c0"/>
<circle cx="285.96" cy="636.28" r="1.7" fill="#1bb8c0"/>
<circle cx="243.31" cy="630.77" r="1.7" fill="#1bb8c0"/>
<circle cx="257.96" cy="632.90" r="1.7" fill="#1bb8c0"/>
<circle cx="261.21" cy="633.34" r="1.7" fill="#1bb8c0"/>
<circle cx="289.30" cy="636.63" r="1.7" fill="#1bb8c0"/>
<circle cx="229.47" cy="628.44" r="1.7" fill="#1bb8c0"/>
<circle cx="264.87" cy="633.81" r="1.7" fill="#1bb8c0"/>
<circle cx="258.32" cy="632.95" r="1.7" fill="#1bb8c0"/>
<circle cx="274.26" cy="634.96" r="1.7" fill="#1bb8c0"/>
<circle cx="290.63" cy="636.76" r="1.7" fill="#1bb8c0"/>
<circle cx="244.37" cy="630.93" r="1.7" fill="#1bb8c0"/>
<circle cx="271.79" cy="634.67" r="1.7" fill="#1bb8c0"/>
<circle cx="259.56" cy="633.12" r="1.7" fill="#1bb8c0"/>
<circle cx="262.01" cy="633.44" r="1.7" fill="#1bb8c0"/>
<circle cx="227.02" cy="627.99" r="1.7" fill="#1bb8c0"/>
<circle cx="279.90" cy="635.61" r="1.7" fill="#1bb8c0"/>
<circle cx="291.32" cy="636.83" r="1.7" fill="#1bb8c0"/>
<circle cx="247.55" cy="631.42" r="1.7" fill="#1bb8c0"/>
<circle cx="244.93" cy="631.02" r="1.7" fill="#1bb8c0"/>
<circle cx="292.47" cy="636.95" r="1.7" fill="#1bb8c0"/>
<circle cx="230.11" cy="628.56" r="1.7" fill="#1bb8c0"/>
<circle cx="227.89" cy="628.15" r="1.7" fill="#1bb8c0"/>
<circle cx="227.69" cy="628.12" r="1.7" fill="#1bb8c0"/>
<circle cx="279.88" cy="635.61" r="1.7" fill="#1bb8c0"/>
<circle cx="276.04" cy="635.17" r="1.7" fill="#1bb8c0"/>
<circle cx="254.08" cy="632.37" r="1.7" fill="#1bb8c0"/>
<circle cx="266.29" cy="633.99" r="1.7" fill="#1bb8c0"/>
<circle cx="223.92" cy="627.41" r="1.7" fill="#1bb8c0"/>
<circle cx="267.93" cy="634.20" r="1.7" fill="#1bb8c0"/>
<circle cx="253.70" cy="632.31" r="1.7" fill="#1bb8c0"/>
<circle cx="258.97" cy="633.04" r="1.7" fill="#1bb8c0"/>
<circle cx="249.95" cy="631.77" r="1.7" fill="#1bb8c0"/>
<circle cx="250.80" cy="631.90" r="1.7" fill="#1bb8c0"/>
<circle cx="238.41" cy="629.98" r="1.7" fill="#1bb8c0"/>
<circle cx="225.97" cy="627.80" r="1.7" fill="#1bb8c0"/>
<circle cx="253.09" cy="632.23" r="1.7" fill="#1bb8c0"/>
<circle cx="239.93" cy="630.23" r="1.7" fill="#1bb8c0"/>
<circle cx="272.12" cy="634.71" r="1.7" fill="#1bb8c0"/>
<circle cx="280.08" cy="635.63" r="1.7" fill="#1bb8c0"/>
<circle cx="273.50" cy="634.87" r="1.7" fill="#1bb8c0"/>
<circle cx="254.64" cy="632.44" r="1.7" fill="#1bb8c0"/>
<circle cx="239.18" cy="630.11" r="1.7" fill="#1bb8c0"/>
<circle cx="249.67" cy="631.73" r="1.7" fill="#1bb8c0"/>
<circle cx="256.81" cy="632.75" r="1.7" fill="#1bb8c0"/>
<circle cx="267.02" cy="634.09" r="1.7" fill="#1bb8c0"/>
<circle cx="290.35" cy="636.74" r="1.7" fill="#1bb8c0"/>
<circle cx="228.54" cy="628.27" r="1.7" fill="#1bb8c0"/>
<circle cx="256.31" cy="632.68" r="1.7" fill="#1bb8c0"/>
<circle cx="257.17" cy="632.80" r="1.7" fill="#1bb8c0"/>
<circle cx="273.03" cy="634.82" r="1.7" fill="#1bb8c0"/>
<circle cx="285.24" cy="636.20" r="1.7" fill="#1bb8c0"/>
<circle cx="277.42" cy="635.33" r="1.7" fill="#1bb8c0"/>
<circle cx="266.67" cy="634.04" r="1.7" fill="#1bb8c0"/>
<circle cx="275.95" cy="635.16" r="1.7" fill="#1bb8c0"/>
<circle cx="269.57" cy="634.40" r="1.7" fill="#1bb8c0"/>
<circle cx="283.01" cy="635.96" r="1.7" fill="#1bb8c0"/>
<circle cx="271.76" cy="634.67" r="1.7" fill="#1bb8c0"/>
<circle cx="270.63" cy="634.53" r="1.7" fill="#1bb8c0"/>
<circle cx="239.80" cy="630.21" r="1.7" fill="#1bb8c0"/>
<circle cx="287.08" cy="636.39" r="1.7" fill="#1bb8c0"/>
<circle cx="249.71" cy="631.74" r="1.7" fill="#1bb8c0"/>
<circle cx="265.82" cy="633.93" r="1.7" fill="#1bb8c0"/>
<circle cx="280.61" cy="635.69" r="1.7" fill="#1bb8c0"/>
<circle cx="290.39" cy="636.74" r="1.7" fill="#1bb8c0"/>
<circle cx="292.19" cy="636.92" r="1.7" fill="#1bb8c0"/>
<circle cx="222.98" cy="627.23" r="1.7" fill="#1bb8c0"/>
<circle cx="244.54" cy="630.96" r="1.7" fill="#1bb8c0"/>
<circle cx="244.48" cy="630.95" r="1.7" fill="#1bb8c0"/>
<circle cx="250.08" cy="631.79" r="1.7" fill="#1bb8c0"/>
<circle cx="232.77" cy="629.03" r="1.7" fill="#1bb8c0"/>
<circle cx="261.49" cy="633.38" r="1.7" fill="#1bb8c0"/>
<circle cx="228.13" cy="628.20" r="1.7" fill="#1bb8c0"/>
<circle cx="243.84" cy="630.85" r="1.7" fill="#1bb8c0"/>
<circle cx="288.97" cy="636.59" r="1.7" fill="#1bb8c0"/>
<circle cx="274.81" cy="635.03" r="1.7" fill="#1bb8c0"/>
<circle cx="255.09" cy="632.51" r="1.7" fill="#1bb8c0"/>
<circle cx="230.15" cy="628.56" r="1.7" fill="#1bb8c0"/>
<circle cx="289.85" cy="636.68" r="1.7" fill="#1bb8c0"/>
<circle cx="272.10" cy="634.71" r="1.7" fill="#1bb8c0"/>
<circle cx="237.02" cy="629.75" r="1.7" fill="#1bb8c0"/>
<circle cx="246.14" cy="631.20" r="1.7" fill="#1bb8c0"/>
<circle cx="267.71" cy="634.17" r="1.7" fill="#1bb8c0"/>
<circle cx="270.53" cy="634.52" r="1.7" fill="#1bb8c0"/>
<circle cx="240.90" cy="630.38" r="1.7" fill="#1bb8c0"/>
<circle cx="289.52" cy="636.65" r="1.7" fill="#1bb8c0"/>
<circle cx="245.21" cy="631.06" r="1.7" fill="#1bb8c0"/>
<circle cx="240.43" cy="630.31" r="1.7" fill="#1bb8c0"/>
<circle cx="282.06" cy="635.85" r="1.7" fill="#1bb8c0"/>
<circle cx="233.33" cy="629.12" r="1.7" fill="#1bb8c0"/>
<circle cx="270.50" cy="634.52" r="1.7" fill="#1bb8c0"/>
<circle cx="236.61" cy="629.68" r="1.7" fill="#1bb8c0"/>
<circle cx="264.64" cy="633.78" r="1.7" fill="#1bb8c0"/>
<circle cx="242.07" cy="630.57" r="1.7" fill="#1bb8c0"/>
<circle cx="249.22" cy="631.66" r="1.7" fill="#1bb8c0"/>
<circle cx="288.78" cy="636.57" r="1.7" fill="#1bb8c0"/>
<circle cx="255.41" cy="632.55" r="1.7" fill="#1bb8c0"/>
<circle cx="253.30" cy="632.25" r="1.7" fill="#1bb8c0"/>
<circle cx="265.99" cy="633.96" r="1.7" fill="#1bb8c0"/>
<circle cx="242.29" cy="630.61" r="1.7" fill="#1bb8c0"/>
<circle cx="234.81" cy="629.38" r="1.7" fill="#1bb8c0"/>
<circle cx="249.62" cy="631.72" r="1.7" fill="#1bb8c0"/>
<circle cx="241.71" cy="630.51" r="1.7" fill="#1bb8c0"/>
<circle cx="235.80" cy="629.55" r="1.7" fill="#1bb8c0"/>
<circle cx="290.19" cy="636.72" r="1.7" fill="#1bb8c0"/>
<circle cx="224.95" cy="627.61" r="1.7" fill="#1bb8c0"/>
<circle cx="279.60" cy="635.58" r="1.7" fill="#1bb8c0"/>
<circle cx="288.36" cy="636.53" r="1.7" fill="#1bb8c0"/>
<circle cx="272.15" cy="634.71" r="1.7" fill="#1bb8c0"/>
<circle cx="223.87" cy="627.40" r="1.7" fill="#1bb8c0"/>
<circle cx="257.82" cy="632.88" r="1.7" fill="#1bb8c0"/>
<circle cx="225.30" cy="627.67" r="1.7" fill="#1bb8c0"/>
<circle cx="265.34" cy="633.87" r="1.7" fill="#1bb8c0"/>
<circle cx="271.85" cy="634.68" r="1.7" fill="#1bb8c0"/>
<circle cx="239.45" cy="630.15" r="1.7" fill="#1bb8c0"/>
<circle cx="223.07" cy="627.25" r="1.7" fill="#1bb8c0"/>
<circle cx="260.87" cy="633.29" r="1.7" fill="#1bb8c0"/>
<circle cx="229.19" cy="628.39" r="1.7" fill="#1bb8c0"/>
<circle cx="244.29" cy="630.92" r="1.7" fill="#1bb8c0"/>
<circle cx="254.51" cy="632.43" r="1.7" fill="#1bb8c0"/>
<circle cx="285.52" cy="636.23" r="1.7" fill="#1bb8c0"/>
<circle cx="248.59" cy="631.57" r="1.7" fill="#1bb8c0"/>
<circle cx="232.03" cy="628.90" r="1.7" fill="#1bb8c0"/>
<circle cx="249.21" cy="629.69" r="1.7" fill="#f2736b"/>
<circle cx="122.34" cy="586.31" r="1.7" fill="#f2736b"/>
<circle cx="251.45" cy="627.79" r="1.7" fill="#f2736b"/>
<circle cx="86.64" cy="523.14" r="1.7" fill="#f2736b"/>
<circle cx="239.80" cy="629.03" r="1.7" fill="#f2736b"/>
<circle cx="254.14" cy="631.70" r="1.7" fill="#f2736b"/>
<circle cx="250.97" cy="630.84" r="1.7" fill="#f2736b"/>
<circle cx="145.53" cy="603.74" r="1.7" fill="#f2736b"/>
<circle cx="97.15" cy="554.52" r="1.7" fill="#f2736b"/>
<circle cx="139.62" cy="596.72" r="1.7" fill="#f2736b"/>
<circle cx="225.91" cy="627.19" r="1.7" fill="#f2736b"/>
<circle cx="278.43" cy="633.84" r="1.7" fill="#f2736b"/>
<circle cx="235.79" cy="628.75" r="1.7" fill="#f2736b"/>
<circle cx="127.83" cy="585.87" r="1.7" fill="#f2736b"/>
<circle cx="214.88" cy="623.91" r="1.7" fill="#f2736b"/>
<circle cx="116.97" cy="573.70" r="1.7" fill="#f2736b"/>
<circle cx="225.64" cy="625.55" r="1.7" fill="#f2736b"/>
<circle cx="194.93" cy="616.67" r="1.7" fill="#f2736b"/>
<circle cx="280.73" cy="633.03" r="1.7" fill="#f2736b"/>
<circle cx="156.85" cy="608.80" r="1.7" fill="#f2736b"/>
<circle cx="218.79" cy="623.80" r="1.7" fill="#f2736b"/>
<circle cx="268.10" cy="629.70" r="1.7" fill="#f2736b"/>
<circle cx="245.82" cy="629.13" r="1.7" fill="#f2736b"/>
<circle cx="100.34" cy="556.09" r="1.7" fill="#f2736b"/>
<circle cx="254.09" cy="631.73" r="1.7" fill="#f2736b"/>
<circle cx="171.77" cy="613.74" r="1.7" fill="#f2736b"/>
<circle cx="127.23" cy="582.20" r="1.7" fill="#f2736b"/>
<circle cx="270.92" cy="633.78" r="1.7" fill="#f2736b"/>
<circle cx="172.04" cy="614.84" r="1.7" fill="#f2736b"/>
<circle cx="219.61" cy="626.05" r="1.7" fill="#f2736b"/>
<circle cx="185.76" cy="617.74" r="1.7" fill="#f2736b"/>
<circle cx="90.41" cy="528.55" r="1.7" fill="#f2736b"/>
<circle cx="237.62" cy="627.70" r="1.7" fill="#f2736b"/>
<circle cx="165.61" cy="608.13" r="1.7" fill="#f2736b"/>
<circle cx="204.00" cy="622.17" r="1.7" fill="#f2736b"/>
<circle cx="237.12" cy="627.92" r="1.7" fill="#f2736b"/>
<circle cx="160.74" cy="607.28" r="1.7" fill="#f2736b"/>
<circle cx="164.73" cy="611.95" r="1.7" fill="#f2736b"/>
<circle cx="264.66" cy="632.07" r="1.7" fill="#f2736b"/>
<circle cx="247.15" cy="628.58" r="1.7" fill="#f2736b"/>
<circle cx="260.97" cy="631.58" r="1.7" fill="#f2736b"/>
<circle cx="216.02" cy="623.54" r="1.7" fill="#f2736b"/>
<circle cx="226.24" cy="626.96" r="1.7" fill="#f2736b"/>
<circle cx="187.44" cy="618.59" r="1.7" fill="#f2736b"/>
<circle cx="153.32" cy="606.19" r="1.7" fill="#f2736b"/>
<circle cx="112.56" cy="567.43" r="1.7" fill="#f2736b"/>
<circle cx="108.83" cy="563.32" r="1.7" fill="#f2736b"/>
<circle cx="235.15" cy="629.16" r="1.7" fill="#f2736b"/>
<circle cx="285.02" cy="634.10" r="1.7" fill="#f2736b"/>
<circle cx="159.75" cy="609.70" r="1.7" fill="#f2736b"/>
<circle cx="178.90" cy="617.16" r="1.7" fill="#f2736b"/>
<circle cx="87.12" cy="526.06" r="1.7" fill="#f2736b"/>
<circle cx="206.18" cy="624.06" r="1.7" fill="#f2736b"/>
<circle cx="117.61" cy="577.34" r="1.7" fill="#f2736b"/>
<circle cx="128.18" cy="587.02" r="1.7" fill="#f2736b"/>
<circle cx="214.03" cy="624.57" r="1.7" fill="#f2736b"/>
<circle cx="195.19" cy="619.37" r="1.7" fill="#f2736b"/>
<circle cx="125.61" cy="587.12" r="1.7" fill="#f2736b"/>
<circle cx="133.88" cy="594.20" r="1.7" fill="#f2736b"/>
<circle cx="204.06" cy="621.86" r="1.7" fill="#f2736b"/>
<circle cx="84.85" cy="516.67" r="1.7" fill="#f2736b"/>
<circle cx="158.03" cy="607.41" r="1.7" fill="#f2736b"/>
<circle cx="270.15" cy="632.50" r="1.7" fill="#f2736b"/>
<circle cx="277.46" cy="629.94" r="1.7" fill="#f2736b"/>
<circle cx="234.09" cy="628.97" r="1.7" fill="#f2736b"/>
<circle cx="222.38" cy="627.40" r="1.7" fill="#f2736b"/>
<circle cx="94.16" cy="541.67" r="1.7" fill="#f2736b"/>
<circle cx="249.47" cy="630.28" r="1.7" fill="#f2736b"/>
<circle cx="106.49" cy="566.02" r="1.7" fill="#f2736b"/>
<circle cx="161.52" cy="607.46" r="1.7" fill="#f2736b"/>
<circle cx="214.77" cy="627.15" r="1.7" fill="#f2736b"/>
<circle cx="124.60" cy="588.17" r="1.7" fill="#f2736b"/>
<circle cx="122.12" cy="580.31" r="1.7" fill="#f2736b"/>
<circle cx="89.61" cy="526.65" r="1.7" fill="#f2736b"/>
<circle cx="223.03" cy="625.51" r="1.7" fill="#f2736b"/>
<circle cx="237.59" cy="629.94" r="1.7" fill="#f2736b"/>
<circle cx="207.74" cy="622.27" r="1.7" fill="#f2736b"/>
<circle cx="151.94" cy="600.75" r="1.7" fill="#f2736b"/>
<circle cx="225.59" cy="625.82" r="1.7" fill="#f2736b"/>
<circle cx="267.54" cy="630.95" r="1.7" fill="#f2736b"/>
<circle cx="162.71" cy="608.54" r="1.7" fill="#f2736b"/>
<circle cx="214.39" cy="625.24" r="1.7" fill="#f2736b"/>
<circle cx="211.58" cy="624.07" r="1.7" fill="#f2736b"/>
<circle cx="270.60" cy="630.26" r="1.7" fill="#f2736b"/>
<circle cx="230.28" cy="630.71" r="1.7" fill="#f2736b"/>
<circle cx="173.37" cy="614.43" r="1.7" fill="#f2736b"/>
<circle cx="164.07" cy="610.21" r="1.7" fill="#f2736b"/>
<circle cx="178.36" cy="615.58" r="1.7" fill="#f2736b"/>
<circle cx="106.33" cy="567.23" r="1.7" fill="#f2736b"/>
<circle cx="232.45" cy="628.67" r="1.7" fill="#f2736b"/>
<circle cx="107.28" cy="568.25" r="1.7" fill="#f2736b"/>
<circle cx="288.63" cy="634.25" r="1.7" fill="#f2736b"/>
<circle cx="230.34" cy="627.12" r="1.7" fill="#f2736b"/>
<circle cx="279.56" cy="633.02" r="1.7" fill="#f2736b"/>
<circle cx="141.47" cy="598.52" r="1.7" fill="#f2736b"/>
<circle cx="118.00" cy="580.03" r="1.7" fill="#f2736b"/>
<circle cx="251.61" cy="629.31" r="1.7" fill="#f2736b"/>
<circle cx="261.34" cy="630.91" r="1.7" fill="#f2736b"/>
<circle cx="242.73" cy="626.83" r="1.7" fill="#f2736b"/>
<circle cx="136.03" cy="593.90" r="1.7" fill="#f2736b"/>
<circle cx="262.48" cy="631.54" r="1.7" fill="#f2736b"/>
<circle cx="150.40" cy="604.11" r="1.7" fill="#f2736b"/>
<circle cx="292.10" cy="630.74" r="1.7" fill="#f2736b"/>
<circle cx="179.74" cy="616.47" r="1.7" fill="#f2736b"/>
<circle cx="212.28" cy="622.11" r="1.7" fill="#f2736b"/>
<circle cx="100.74" cy="555.31" r="1.7" fill="#f2736b"/>
<circle cx="117.99" cy="580.53" r="1.7" fill="#f2736b"/>
<circle cx="234.69" cy="627.43" r="1.7" fill="#f2736b"/>
<circle cx="216.40" cy="626.10" r="1.7" fill="#f2736b"/>
<circle cx="285.66" cy="635.37" r="1.7" fill="#f2736b"/>
<circle cx="210.24" cy="625.45" r="1.7" fill="#f2736b"/>
<circle cx="122.10" cy="584.02" r="1.7" fill="#f2736b"/>
<circle cx="97.40" cy="546.02" r="1.7" fill="#f2736b"/>
<circle cx="148.78" cy="602.63" r="1.7" fill="#f2736b"/>
<circle cx="107.32" cy="566.71" r="1.7" fill="#f2736b"/>
<circle cx="125.40" cy="585.78" r="1.7" fill="#f2736b"/>
<circle cx="258.69" cy="631.20" r="1.7" fill="#f2736b"/>
<circle cx="226.98" cy="627.13" r="1.7" fill="#f2736b"/>
<circle cx="195.16" cy="620.12" r="1.7" fill="#f2736b"/>
<circle cx="138.41" cy="598.62" r="1.7" fill="#f2736b"/>
<circle cx="273.05" cy="631.73" r="1.7" fill="#f2736b"/>
<circle cx="240.51" cy="630.34" r="1.7" fill="#f2736b"/>
<circle cx="136.93" cy="592.61" r="1.7" fill="#f2736b"/>
<circle cx="107.25" cy="566.81" r="1.7" fill="#f2736b"/>
<circle cx="195.89" cy="621.10" r="1.7" fill="#f2736b"/>
<circle cx="286.69" cy="633.90" r="1.7" fill="#f2736b"/>
<circle cx="171.08" cy="613.59" r="1.7" fill="#f2736b"/>
<circle cx="228.35" cy="627.56" r="1.7" fill="#f2736b"/>
<circle cx="162.09" cy="607.82" r="1.7" fill="#f2736b"/>
<circle cx="278.57" cy="634.07" r="1.7" fill="#f2736b"/>
<circle cx="206.14" cy="623.14" r="1.7" fill="#f2736b"/>
<circle cx="161.51" cy="609.94" r="1.7" fill="#f2736b"/>
<circle cx="225.55" cy="625.95" r="1.7" fill="#f2736b"/>
<circle cx="153.23" cy="604.52" r="1.7" fill="#f2736b"/>
<circle cx="119.22" cy="584.08" r="1.7" fill="#f2736b"/>
<circle cx="100.68" cy="546.64" r="1.7" fill="#f2736b"/>
<circle cx="263.42" cy="632.48" r="1.7" fill="#f2736b"/>
<circle cx="255.31" cy="631.81" r="1.7" fill="#f2736b"/>
<circle cx="122.05" cy="586.62" r="1.7" fill="#f2736b"/>
<circle cx="167.74" cy="610.07" r="1.7" fill="#f2736b"/>
<circle cx="125.91" cy="588.65" r="1.7" fill="#f2736b"/>
<circle cx="153.66" cy="603.63" r="1.7" fill="#f2736b"/>
<circle cx="198.26" cy="620.66" r="1.7" fill="#f2736b"/>
<circle cx="235.69" cy="629.34" r="1.7" fill="#f2736b"/>
<circle cx="193.03" cy="619.82" r="1.7" fill="#f2736b"/>
<circle cx="149.97" cy="601.49" r="1.7" fill="#f2736b"/>
<circle cx="254.31" cy="629.33" r="1.7" fill="#f2736b"/>
<circle cx="169.34" cy="612.75" r="1.7" fill="#f2736b"/>
<circle cx="231.63" cy="627.52" r="1.7" fill="#f2736b"/>
<circle cx="249.92" cy="631.23" r="1.7" fill="#f2736b"/>
<circle cx="246.26" cy="629.92" r="1.7" fill="#f2736b"/>
<circle cx="272.90" cy="631.54" r="1.7" fill="#f2736b"/>
<circle cx="241.80" cy="628.69" r="1.7" fill="#f2736b"/>
<circle cx="101.89" cy="557.04" r="1.7" fill="#f2736b"/>
<circle cx="281.79" cy="634.02" r="1.7" fill="#f2736b"/>
<circle cx="152.14" cy="604.12" r="1.7" fill="#f2736b"/>
<circle cx="112.25" cy="579.63" r="1.7" fill="#f2736b"/>
<circle cx="214.99" cy="628.80" r="1.7" fill="#f2736b"/>
<circle cx="186.03" cy="615.52" r="1.7" fill="#f2736b"/>
<circle cx="251.75" cy="631.57" r="1.7" fill="#f2736b"/>
<circle cx="186.52" cy="619.23" r="1.7" fill="#f2736b"/>
<circle cx="126.23" cy="584.14" r="1.7" fill="#f2736b"/>
<circle cx="208.69" cy="625.61" r="1.7" fill="#f2736b"/>
<circle cx="277.68" cy="633.08" r="1.7" fill="#f2736b"/>
<circle cx="139.51" cy="591.68" r="1.7" fill="#f2736b"/>
<circle cx="258.02" cy="630.94" r="1.7" fill="#f2736b"/>
<circle cx="155.44" cy="607.69" r="1.7" fill="#f2736b"/>
<circle cx="88.24" cy="528.71" r="1.7" fill="#f2736b"/>
<circle cx="198.82" cy="622.70" r="1.7" fill="#f2736b"/>
<circle cx="232.05" cy="626.32" r="1.7" fill="#f2736b"/>
<circle cx="214.95" cy="623.24" r="1.7" fill="#f2736b"/>
<circle cx="234.02" cy="626.80" r="1.7" fill="#f2736b"/>
<circle cx="90.62" cy="532.56" r="1.7" fill="#f2736b"/>
<circle cx="192.74" cy="617.77" r="1.7" fill="#f2736b"/>
<circle cx="228.70" cy="626.13" r="1.7" fill="#f2736b"/>
<circle cx="182.57" cy="616.52" r="1.7" fill="#f2736b"/>
<circle cx="215.99" cy="624.92" r="1.7" fill="#f2736b"/>
<circle cx="128.55" cy="586.91" r="1.7" fill="#f2736b"/>
<circle cx="217.38" cy="625.26" r="1.7" fill="#f2736b"/>
<circle cx="183.75" cy="616.62" r="1.7" fill="#f2736b"/>
<circle cx="137.67" cy="592.40" r="1.7" fill="#f2736b"/>
<circle cx="129.91" cy="586.49" r="1.7" fill="#f2736b"/>
<circle cx="280.70" cy="631.93" r="1.7" fill="#f2736b"/>
<circle cx="110.31" cy="571.48" r="1.7" fill="#f2736b"/>
<circle cx="145.69" cy="602.15" r="1.7" fill="#f2736b"/>
<circle cx="121.49" cy="580.70" r="1.7" fill="#f2736b"/>
<circle cx="267.03" cy="631.61" r="1.7" fill="#f2736b"/>
<circle cx="204.27" cy="624.52" r="1.7" fill="#f2736b"/>
<circle cx="115.51" cy="571.70" r="1.7" fill="#f2736b"/>
<circle cx="250.87" cy="629.06" r="1.7" fill="#f2736b"/>
<circle cx="193.20" cy="618.88" r="1.7" fill="#f2736b"/>
<circle cx="218.53" cy="623.92" r="1.7" fill="#f2736b"/>
<circle cx="91.85" cy="547.53" r="1.7" fill="#f2736b"/>
<circle cx="172.47" cy="612.92" r="1.7" fill="#f2736b"/>
<circle cx="86.71" cy="520.81" r="1.7" fill="#f2736b"/>
<circle cx="97.00" cy="550.51" r="1.7" fill="#f2736b"/>
<circle cx="119.83" cy="581.29" r="1.7" fill="#f2736b"/>
<circle cx="184.64" cy="616.51" r="1.7" fill="#f2736b"/>
<circle cx="253.70" cy="630.37" r="1.7" fill="#f2736b"/>
<circle cx="162.05" cy="605.33" r="1.7" fill="#f2736b"/>
<circle cx="244.01" cy="627.79" r="1.7" fill="#f2736b"/>
<circle cx="182.33" cy="616.38" r="1.7" fill="#f2736b"/>
<circle cx="202.88" cy="621.56" r="1.7" fill="#f2736b"/>
<circle cx="161.44" cy="609.98" r="1.7" fill="#f2736b"/>
<circle cx="87.32" cy="523.40" r="1.7" fill="#f2736b"/>
<circle cx="107.03" cy="564.64" r="1.7" fill="#f2736b"/>
<circle cx="98.13" cy="547.31" r="1.7" fill="#f2736b"/>
<circle cx="97.97" cy="552.54" r="1.7" fill="#f2736b"/>
<circle cx="99.17" cy="550.15" r="1.7" fill="#f2736b"/>
<circle cx="185.96" cy="618.72" r="1.7" fill="#f2736b"/>
<circle cx="272.18" cy="630.75" r="1.7" fill="#f2736b"/>
<circle cx="291.31" cy="635.93" r="1.7" fill="#f2736b"/>
<circle cx="246.93" cy="629.82" r="1.7" fill="#f2736b"/>
<circle cx="290.71" cy="635.18" r="1.7" fill="#f2736b"/>
<circle cx="157.96" cy="609.74" r="1.7" fill="#f2736b"/>
<circle cx="200.33" cy="623.30" r="1.7" fill="#f2736b"/>
<circle cx="174.10" cy="613.32" r="1.7" fill="#f2736b"/>
<circle cx="216.75" cy="626.45" r="1.7" fill="#f2736b"/>
<circle cx="251.64" cy="630.95" r="1.7" fill="#f2736b"/>
<circle cx="101.90" cy="554.30" r="1.7" fill="#f2736b"/>
<circle cx="242.86" cy="627.32" r="1.7" fill="#f2736b"/>
<circle cx="260.86" cy="630.54" r="1.7" fill="#f2736b"/>
<circle cx="264.82" cy="631.09" r="1.7" fill="#f2736b"/>
<circle cx="155.96" cy="607.51" r="1.7" fill="#f2736b"/>
<circle cx="124.84" cy="585.81" r="1.7" fill="#f2736b"/>
<circle cx="208.99" cy="624.88" r="1.7" fill="#f2736b"/>
<circle cx="201.35" cy="618.90" r="1.7" fill="#f2736b"/>
<circle cx="174.20" cy="614.23" r="1.7" fill="#f2736b"/>
<circle cx="262.31" cy="630.60" r="1.7" fill="#f2736b"/>
<circle cx="183.64" cy="617.86" r="1.7" fill="#f2736b"/>
<circle cx="147.48" cy="605.45" r="1.7" fill="#f2736b"/>
<circle cx="170.16" cy="613.32" r="1.7" fill="#f2736b"/>
<circle cx="123.85" cy="587.29" r="1.7" fill="#f2736b"/>
<circle cx="266.65" cy="630.54" r="1.7" fill="#f2736b"/>
<circle cx="283.28" cy="634.70" r="1.7" fill="#f2736b"/>
<circle cx="276.41" cy="631.83" r="1.7" fill="#f2736b"/>
<circle cx="107.90" cy="564.09" r="1.7" fill="#f2736b"/>
<circle cx="96.73" cy="532.37" r="1.7" fill="#f2736b"/>
<circle cx="91.71" cy="537.64" r="1.7" fill="#f2736b"/>
<circle cx="194.12" cy="622.53" r="1.7" fill="#f2736b"/>
<circle cx="128.13" cy="587.24" r="1.7" fill="#f2736b"/>
<circle cx="157.74" cy="610.33" r="1.7" fill="#f2736b"/>
<circle cx="275.61" cy="633.75" r="1.7" fill="#f2736b"/>
<circle cx="257.08" cy="630.68" r="1.7" fill="#f2736b"/>
<circle cx="287.43" cy="635.46" r="1.7" fill="#f2736b"/>
<circle cx="272.73" cy="631.46" r="1.7" fill="#f2736b"/>
<circle cx="161.03" cy="608.75" r="1.7" fill="#f2736b"/>
<circle cx="185.74" cy="615.98" r="1.7" fill="#f2736b"/>
<circle cx="169.21" cy="611.02" r="1.7" fill="#f2736b"/>
<circle cx="158.36" cy="606.90" r="1.7" fill="#f2736b"/>
<circle cx="207.01" cy="623.43" r="1.7" fill="#f2736b"/>
<circle cx="204.79" cy="623.42" r="1.7" fill="#f2736b"/>
<circle cx="110.05" cy="573.68" r="1.7" fill="#f2736b"/>
<circle cx="139.59" cy="598.34" r="1.7" fill="#f2736b"/>
<circle cx="113.33" cy="572.34" r="1.7" fill="#f2736b"/>
<circle cx="223.03" cy="626.47" r="1.7" fill="#f2736b"/>
<circle cx="242.35" cy="627.54" r="1.7" fill="#f2736b"/>
<circle cx="104.16" cy="562.52" r="1.7" fill="#f2736b"/>
<circle cx="90.34" cy="537.58" r="1.7" fill="#f2736b"/>
<circle cx="129.43" cy="589.23" r="1.7" fill="#f2736b"/>
<circle cx="289.28" cy="632.98" r="1.7" fill="#f2736b"/>
<circle cx="206.35" cy="623.69" r="1.7" fill="#f2736b"/>
<circle cx="167.92" cy="615.31" r="1.7" fill="#f2736b"/>
<circle cx="266.50" cy="632.76" r="1.7" fill="#f2736b"/>
<circle cx="207.03" cy="622.74" r="1.7" fill="#f2736b"/>
<circle cx="129.43" cy="585.72" r="1.7" fill="#f2736b"/>
<circle cx="238.59" cy="630.49" r="1.7" fill="#f2736b"/>
<circle cx="190.55" cy="621.65" r="1.7" fill="#f2736b"/>
<circle cx="197.59" cy="623.33" r="1.7" fill="#f2736b"/>
<circle cx="196.93" cy="620.62" r="1.7" fill="#f2736b"/>
<circle cx="285.97" cy="634.44" r="1.7" fill="#f2736b"/>
<circle cx="285.18" cy="631.78" r="1.7" fill="#f2736b"/>
<circle cx="107.22" cy="566.94" r="1.7" fill="#f2736b"/>
<circle cx="192.43" cy="620.09" r="1.7" fill="#f2736b"/>
<circle cx="131.13" cy="590.96" r="1.7" fill="#f2736b"/>
<circle cx="142.17" cy="595.99" r="1.7" fill="#f2736b"/>
<circle cx="128.31" cy="584.73" r="1.7" fill="#f2736b"/>
<circle cx="206.77" cy="620.62" r="1.7" fill="#f2736b"/>
<circle cx="154.09" cy="607.02" r="1.7" fill="#f2736b"/>
<circle cx="199.06" cy="619.00" r="1.7" fill="#f2736b"/>
<circle cx="125.60" cy="587.03" r="1.7" fill="#f2736b"/>
<circle cx="116.02" cy="577.79" r="1.7" fill="#f2736b"/>
<circle cx="275.67" cy="631.95" r="1.7" fill="#f2736b"/>
<circle cx="143.96" cy="603.13" r="1.7" fill="#f2736b"/>
<circle cx="87.22" cy="513.89" r="1.7" fill="#f2736b"/>
<circle cx="270.62" cy="630.46" r="1.7" fill="#f2736b"/>
<circle cx="210.21" cy="622.56" r="1.7" fill="#f2736b"/>
<circle cx="179.60" cy="615.51" r="1.7" fill="#f2736b"/>
<circle cx="265.85" cy="630.50" r="1.7" fill="#f2736b"/>
<circle cx="154.94" cy="602.41" r="1.7" fill="#f2736b"/>
<circle cx="121.43" cy="579.21" r="1.7" fill="#f2736b"/>
<circle cx="97.75" cy="548.75" r="1.7" fill="#f2736b"/>
<circle cx="157.81" cy="605.41" r="1.7" fill="#f2736b"/>
<circle cx="117.61" cy="575.40" r="1.7" fill="#f2736b"/>
<circle cx="95.43" cy="539.41" r="1.7" fill="#f2736b"/>
<circle cx="177.85" cy="613.31" r="1.7" fill="#f2736b"/>
<circle cx="98.46" cy="540.52" r="1.7" fill="#f2736b"/>
<circle cx="182.73" cy="616.43" r="1.7" fill="#f2736b"/>
<circle cx="249.63" cy="630.87" r="1.7" fill="#f2736b"/>
<circle cx="291.85" cy="633.92" r="1.7" fill="#f2736b"/>
<circle cx="95.19" cy="544.44" r="1.7" fill="#f2736b"/>
<circle cx="144.30" cy="604.63" r="1.7" fill="#f2736b"/>
<circle cx="243.70" cy="628.25" r="1.7" fill="#f2736b"/>
<circle cx="181.25" cy="614.50" r="1.7" fill="#f2736b"/>
<circle cx="274.60" cy="633.81" r="1.7" fill="#f2736b"/>
<circle cx="224.68" cy="624.85" r="1.7" fill="#f2736b"/>
<circle cx="288.90" cy="633.35" r="1.7" fill="#f2736b"/>
<circle cx="101.69" cy="558.01" r="1.7" fill="#f2736b"/>
<circle cx="199.56" cy="620.78" r="1.7" fill="#f2736b"/>
<circle cx="284.71" cy="634.59" r="1.7" fill="#f2736b"/>
<circle cx="283.56" cy="634.16" r="1.7" fill="#f2736b"/>
<circle cx="232.53" cy="627.55" r="1.7" fill="#f2736b"/>
<circle cx="204.38" cy="624.43" r="1.7" fill="#f2736b"/>
<circle cx="271.32" cy="631.88" r="1.7" fill="#f2736b"/>
<circle cx="225.07" cy="623.90" r="1.7" fill="#f2736b"/>
<circle cx="191.08" cy="619.46" r="1.7" fill="#f2736b"/>
<circle cx="89.43" cy="529.42" r="1.7" fill="#f2736b"/>
<circle cx="233.66" cy="627.46" r="1.7" fill="#f2736b"/>
<circle cx="248.47" cy="630.57" r="1.7" fill="#f2736b"/>
<circle cx="249.78" cy="631.69" r="1.7" fill="#f2736b"/>
<circle cx="168.19" cy="610.70" r="1.7" fill="#f2736b"/>
<circle cx="158.07" cy="611.09" r="1.7" fill="#f2736b"/>
<circle cx="260.33" cy="632.99" r="1.7" fill="#f2736b"/>
<circle cx="195.99" cy="620.38" r="1.7" fill="#f2736b"/>
<circle cx="96.75" cy="551.81" r="1.7" fill="#f2736b"/>
<circle cx="223.67" cy="625.67" r="1.7" fill="#f2736b"/>
<circle cx="230.40" cy="625.92" r="1.7" fill="#f2736b"/>
<circle cx="88.62" cy="523.65" r="1.7" fill="#f2736b"/>
<circle cx="216.87" cy="626.93" r="1.7" fill="#f2736b"/>
<circle cx="166.22" cy="608.02" r="1.7" fill="#f2736b"/>
<circle cx="104.29" cy="564.71" r="1.7" fill="#f2736b"/>
<circle cx="206.92" cy="622.34" r="1.7" fill="#f2736b"/>
<circle cx="269.84" cy="632.31" r="1.7" fill="#f2736b"/>
<circle cx="203.95" cy="621.27" r="1.7" fill="#f2736b"/>
<circle cx="176.01" cy="617.21" r="1.7" fill="#f2736b"/>
<circle cx="263.93" cy="631.99" r="1.7" fill="#f2736b"/>
<circle cx="232.33" cy="626.62" r="1.7" fill="#f2736b"/>
<circle cx="204.11" cy="620.37" r="1.7" fill="#f2736b"/>
<circle cx="124.36" cy="586.53" r="1.7" fill="#f2736b"/>
<circle cx="282.08" cy="633.52" r="1.7" fill="#f2736b"/>
<circle cx="257.29" cy="628.68" r="1.7" fill="#f2736b"/>
<circle cx="251.62" cy="631.39" r="1.7" fill="#f2736b"/>
<circle cx="93.29" cy="531.18" r="1.7" fill="#f2736b"/>
<circle cx="246.10" cy="631.60" r="1.7" fill="#f2736b"/>
<circle cx="116.59" cy="578.28" r="1.7" fill="#f2736b"/>
<circle cx="191.92" cy="619.19" r="1.7" fill="#f2736b"/>
<circle cx="178.96" cy="614.54" r="1.7" fill="#f2736b"/>
<circle cx="233.34" cy="626.57" r="1.7" fill="#f2736b"/>
<circle cx="92.64" cy="535.52" r="1.7" fill="#f2736b"/>
<circle cx="208.71" cy="625.38" r="1.7" fill="#f2736b"/>
<circle cx="238.02" cy="627.22" r="1.7" fill="#f2736b"/>
<circle cx="228.92" cy="626.34" r="1.7" fill="#f2736b"/>
<circle cx="263.99" cy="634.11" r="1.7" fill="#f2736b"/>
<circle cx="258.56" cy="631.72" r="1.7" fill="#f2736b"/>
<circle cx="256.17" cy="631.58" r="1.7" fill="#f2736b"/>
<circle cx="291.91" cy="633.83" r="1.7" fill="#f2736b"/>
<circle cx="162.09" cy="607.44" r="1.7" fill="#f2736b"/>
<circle cx="183.32" cy="615.83" r="1.7" fill="#f2736b"/>
<circle cx="125.55" cy="585.95" r="1.7" fill="#f2736b"/>
<circle cx="143.02" cy="598.22" r="1.7" fill="#f2736b"/>
<circle cx="241.12" cy="626.35" r="1.7" fill="#f2736b"/>
<circle cx="129.09" cy="589.07" r="1.7" fill="#f2736b"/>
<circle cx="161.47" cy="608.71" r="1.7" fill="#f2736b"/>
<circle cx="109.35" cy="565.53" r="1.7" fill="#f2736b"/>
<circle cx="196.88" cy="620.76" r="1.7" fill="#f2736b"/>
<circle cx="276.10" cy="634.10" r="1.7" fill="#f2736b"/>
<circle cx="135.38" cy="591.89" r="1.7" fill="#f2736b"/>
<circle cx="87.65" cy="527.77" r="1.7" fill="#f2736b"/>
<circle cx="87.67" cy="531.18" r="1.7" fill="#f2736b"/>
<circle cx="208.34" cy="623.13" r="1.7" fill="#f2736b"/>
<circle cx="131.39" cy="591.92" r="1.7" fill="#f2736b"/>
<circle cx="290.01" cy="631.17" r="1.7" fill="#f2736b"/>
<circle cx="238.80" cy="627.30" r="1.7" fill="#f2736b"/>
<circle cx="189.62" cy="622.30" r="1.7" fill="#f2736b"/>
<circle cx="84.48" cy="519.99" r="1.7" fill="#f2736b"/>
<circle cx="101.09" cy="559.37" r="1.7" fill="#f2736b"/>
<circle cx="149.36" cy="602.59" r="1.7" fill="#f2736b"/>
<circle cx="140.47" cy="595.95" r="1.7" fill="#f2736b"/>
<circle cx="197.08" cy="619.40" r="1.7" fill="#f2736b"/>
<circle cx="195.54" cy="621.69" r="1.7" fill="#f2736b"/>
<circle cx="240.06" cy="628.90" r="1.7" fill="#f2736b"/>
<circle cx="183.29" cy="614.98" r="1.7" fill="#f2736b"/>
<circle cx="159.77" cy="608.31" r="1.7" fill="#f2736b"/>
<circle cx="258.80" cy="631.19" r="1.7" fill="#f2736b"/>
<circle cx="142.17" cy="599.53" r="1.7" fill="#f2736b"/>
<circle cx="177.46" cy="615.03" r="1.7" fill="#f2736b"/>
<circle cx="283.48" cy="633.72" r="1.7" fill="#f2736b"/>
<circle cx="164.23" cy="611.67" r="1.7" fill="#f2736b"/>
<circle cx="249.67" cy="631.63" r="1.7" fill="#f2736b"/>
<circle cx="244.82" cy="627.83" r="1.7" fill="#f2736b"/>
<circle cx="273.55" cy="632.88" r="1.7" fill="#f2736b"/>
<circle cx="218.78" cy="624.50" r="1.7" fill="#f2736b"/>
<circle cx="246.57" cy="629.59" r="1.7" fill="#f2736b"/>
<circle cx="134.81" cy="597.00" r="1.7" fill="#f2736b"/>
<circle cx="138.48" cy="599.55" r="1.7" fill="#f2736b"/>
<circle cx="177.38" cy="614.70" r="1.7" fill="#f2736b"/>
<circle cx="182.92" cy="614.70" r="1.7" fill="#f2736b"/>
<circle cx="91.84" cy="536.30" r="1.7" fill="#f2736b"/>
<circle cx="204.16" cy="623.44" r="1.7" fill="#f2736b"/>
<circle cx="225.64" cy="626.72" r="1.7" fill="#f2736b"/>
<circle cx="278.27" cy="631.23" r="1.7" fill="#f2736b"/>
<circle cx="109.49" cy="566.50" r="1.7" fill="#f2736b"/>
<circle cx="184.60" cy="616.93" r="1.7" fill="#f2736b"/>
<circle cx="136.41" cy="594.61" r="1.7" fill="#f2736b"/>
<circle cx="92.63" cy="538.64" r="1.7" fill="#f2736b"/>
<circle cx="170.68" cy="611.23" r="1.7" fill="#f2736b"/>
<circle cx="240.89" cy="629.93" r="1.7" fill="#f2736b"/>
<circle cx="207.50" cy="624.55" r="1.7" fill="#f2736b"/>
<circle cx="191.88" cy="623.44" r="1.7" fill="#f2736b"/>
<circle cx="274.26" cy="633.28" r="1.7" fill="#f2736b"/>
<circle cx="122.40" cy="587.03" r="1.7" fill="#f2736b"/>
<circle cx="273.96" cy="629.85" r="1.7" fill="#f2736b"/>
<circle cx="114.72" cy="571.80" r="1.7" fill="#f2736b"/>
<circle cx="109.15" cy="570.64" r="1.7" fill="#f2736b"/>
<circle cx="126.62" cy="588.90" r="1.7" fill="#f2736b"/>
<circle cx="226.72" cy="622.88" r="1.7" fill="#f2736b"/>
<circle cx="227.47" cy="627.28" r="1.7" fill="#f2736b"/>
<circle cx="93.21" cy="540.72" r="1.7" fill="#f2736b"/>
<circle cx="104.29" cy="564.03" r="1.7" fill="#f2736b"/>
<circle cx="106.88" cy="568.65" r="1.7" fill="#f2736b"/>
<circle cx="104.21" cy="559.01" r="1.7" fill="#f2736b"/>
<circle cx="241.89" cy="626.93" r="1.7" fill="#f2736b"/>
<circle cx="268.12" cy="633.86" r="1.7" fill="#f2736b"/>
<circle cx="215.44" cy="625.09" r="1.7" fill="#f2736b"/>
<circle cx="228.74" cy="626.94" r="1.7" fill="#f2736b"/>
<circle cx="119.08" cy="580.16" r="1.7" fill="#f2736b"/>
<circle cx="254.22" cy="629.37" r="1.7" fill="#f2736b"/>
<circle cx="276.63" cy="635.43" r="1.7" fill="#f2736b"/>
<circle cx="157.60" cy="606.11" r="1.7" fill="#f2736b"/>
<circle cx="214.76" cy="625.77" r="1.7" fill="#f2736b"/>
<circle cx="74.20" cy="461.40" r="1.7" fill="#f2736b"/>
<circle cx="76.30" cy="464.40" r="1.7" fill="#f2736b"/>
<circle cx="78.10" cy="463.60" r="1.7" fill="#f2736b"/>
<circle cx="73.30" cy="471.00" r="1.7" fill="#f2736b"/>
<circle cx="77.20" cy="479.50" r="1.7" fill="#f2736b"/>
<circle cx="75.40" cy="487.50" r="1.7" fill="#f2736b"/>
<circle cx="80.40" cy="487.50" r="1.7" fill="#f2736b"/>
<circle cx="79.90" cy="492.50" r="1.7" fill="#f2736b"/>
<circle cx="82.40" cy="496.00" r="1.7" fill="#f2736b"/>
<circle cx="81.30" cy="500.80" r="1.7" fill="#f2736b"/>
<circle cx="83.10" cy="501.20" r="1.7" fill="#f2736b"/>
<circle cx="78.60" cy="504.70" r="1.7" fill="#f2736b"/>
<circle cx="79.00" cy="510.60" r="1.7" fill="#f2736b"/>
<circle cx="83.40" cy="509.70" r="1.7" fill="#f2736b"/>
<circle cx="85.70" cy="512.40" r="1.7" fill="#f2736b"/>
<circle cx="86.60" cy="515.00" r="1.7" fill="#f2736b"/>
<circle cx="90.50" cy="516.50" r="1.7" fill="#f2736b"/>
<circle cx="85.70" cy="521.20" r="1.7" fill="#f2736b"/>
<circle cx="88.40" cy="521.20" r="1.7" fill="#f2736b"/>
<circle cx="92.00" cy="523.40" r="1.7" fill="#f2736b"/>
<circle cx="89.30" cy="526.60" r="1.7" fill="#f2736b"/>
<circle cx="90.20" cy="530.70" r="1.7" fill="#f2736b"/>
<circle cx="69.60" cy="400.10" r="1.7" fill="#f2736b"/>
<circle cx="67.40" cy="409.70" r="1.7" fill="#f2736b"/>
<circle cx="68.80" cy="414.50" r="1.7" fill="#f2736b"/>
<circle cx="71.00" cy="418.60" r="1.7" fill="#f2736b"/>
<circle cx="69.70" cy="420.00" r="1.7" fill="#f2736b"/>
<circle cx="71.50" cy="422.50" r="1.7" fill="#f2736b"/>
<circle cx="70.40" cy="426.40" r="1.7" fill="#f2736b"/>
<circle cx="66.90" cy="432.40" r="1.7" fill="#f2736b"/>
<circle cx="76.80" cy="439.00" r="1.7" fill="#f2736b"/>
<circle cx="71.90" cy="441.70" r="1.7" fill="#f2736b"/>
<circle cx="72.80" cy="442.90" r="1.7" fill="#f2736b"/>
<circle cx="68.30" cy="444.90" r="1.7" fill="#f2736b"/>
<circle cx="74.00" cy="445.20" r="1.7" fill="#f2736b"/>
<circle cx="74.50" cy="461.50" r="1.7" fill="#f2736b"/>
<circle cx="78.10" cy="463.90" r="1.7" fill="#f2736b"/>
<circle cx="75.90" cy="465.10" r="1.7" fill="#f2736b"/>
<circle cx="73.30" cy="471.00" r="1.7" fill="#f2736b"/>
<circle cx="77.20" cy="479.30" r="1.7" fill="#f2736b"/>
<circle cx="92.80" cy="493.20" r="1.7" fill="#f2736b"/>
<circle cx="122.50" cy="509.70" r="1.7" fill="#f2736b"/>
<circle cx="97.80" cy="515.90" r="1.7" fill="#f2736b"/>
<circle cx="101.20" cy="521.20" r="1.7" fill="#f2736b"/>
<circle cx="125.50" cy="573.60" r="1.7" fill="#f2736b"/>
<circle cx="138.80" cy="589.20" r="1.7" fill="#f2736b"/>
<circle cx="157.10" cy="589.60" r="1.7" fill="#f2736b"/>
<circle cx="159.20" cy="601.30" r="1.7" fill="#f2736b"/>
<circle cx="176.50" cy="601.30" r="1.7" fill="#f2736b"/>
<circle cx="101.00" cy="520.90" r="1.7" fill="#f2736b"/>
<circle cx="80.40" cy="487.50" r="1.7" fill="#f2736b"/>
<circle cx="75.40" cy="487.50" r="1.7" fill="#f2736b"/>
<polyline points="55.5,370.6 55.5,637.2 304.6,637.2" fill="none" stroke="#111" stroke-width="1.4"/>
<line x1="52.30" y1="637.00" x2="55.50" y2="637.00" stroke="#111" stroke-width="1.2"/>
<text x="49.20" y="639.30" font-size="12.2" text-anchor="end" fill="#2e2e2e">0</text>
<line x1="52.30" y1="573.62" x2="55.50" y2="573.62" stroke="#111" stroke-width="1.2"/>
<text x="49.20" y="578.20" font-size="12.2" text-anchor="end" fill="#2e2e2e">2.5</text>
<line x1="52.30" y1="510.25" x2="55.50" y2="510.25" stroke="#111" stroke-width="1.2"/>
<text x="49.20" y="513.80" font-size="12.2" text-anchor="end" fill="#2e2e2e">5.0</text>
<line x1="52.30" y1="446.88" x2="55.50" y2="446.88" stroke="#111" stroke-width="1.2"/>
<text x="49.20" y="449.10" font-size="12.2" text-anchor="end" fill="#2e2e2e">7.5</text>
<line x1="52.30" y1="383.50" x2="55.50" y2="383.50" stroke="#111" stroke-width="1.2"/>
<text x="49.20" y="387.50" font-size="12.2" text-anchor="end" fill="#2e2e2e">10.0</text>
<line x1="91.75" y1="637.20" x2="91.75" y2="640.80" stroke="#111" stroke-width="1.2"/>
<text x="89.95" y="654.90" font-size="12.6" text-anchor="middle" fill="#2e2e2e">20</text>
<line x1="142.05" y1="637.20" x2="142.05" y2="640.80" stroke="#111" stroke-width="1.2"/>
<text x="140.25" y="654.90" font-size="12.6" text-anchor="middle" fill="#2e2e2e">40</text>
<line x1="192.35" y1="637.20" x2="192.35" y2="640.80" stroke="#111" stroke-width="1.2"/>
<text x="190.55" y="654.90" font-size="12.6" text-anchor="middle" fill="#2e2e2e">60</text>
<line x1="242.65" y1="637.20" x2="242.65" y2="640.80" stroke="#111" stroke-width="1.2"/>
<text x="240.85" y="654.90" font-size="12.6" text-anchor="middle" fill="#2e2e2e">80</text>
<line x1="292.95" y1="637.20" x2="292.95" y2="640.80" stroke="#111" stroke-width="1.2"/>
<text x="291.15" y="654.90" font-size="12.6" text-anchor="middle" fill="#2e2e2e">100</text>
<text x="167.00" y="672.60" font-size="12.6" text-anchor="middle" fill="#2e2e2e">Samples being shuffled(%)</text>
<text x="23.20" y="514.70" font-size="12.3" text-anchor="middle" fill="#2e2e2e" transform="rotate(-90 23.20 514.70)">Cscore</text>
<circle cx="150.0" cy="536.2" r="2.0" fill="#f2736b"/>
<circle cx="150.0" cy="549.3" r="2.0" fill="#1bb8c0"/>
<text x="155.60" y="539.60" font-size="10" text-anchor="start" fill="#2e2e2e">Sample with highest Cscore</text>
<text x="154.50" y="552.60" font-size="10" text-anchor="start" fill="#2e2e2e">True sample</text>
<text x="356.10" y="360.50" font-size="22.5" text-anchor="start" fill="#2e2e2e">d</text>
<circle cx="424.20" cy="377.80" r="1.65" fill="#f3716a"/>
<circle cx="422.80" cy="383.10" r="1.65" fill="#f3716a"/>
<circle cx="436.30" cy="388.80" r="1.65" fill="#f3716a"/>
<circle cx="434.90" cy="392.80" r="1.65" fill="#f3716a"/>
<circle cx="419.80" cy="389.80" r="1.65" fill="#f3716a"/>
<circle cx="418.90" cy="394.10" r="1.65" fill="#f3716a"/>
<circle cx="430.40" cy="397.30" r="1.65" fill="#f3716a"/>
<circle cx="443.70" cy="402.30" r="1.65" fill="#f3716a"/>
<circle cx="427.20" cy="408.80" r="1.65" fill="#f3716a"/>
<circle cx="428.60" cy="416.80" r="1.65" fill="#f3716a"/>
<circle cx="433.10" cy="416.80" r="1.65" fill="#f3716a"/>
<circle cx="431.70" cy="413.30" r="1.65" fill="#f3716a"/>
<circle cx="451.40" cy="412.40" r="1.65" fill="#f3716a"/>
<circle cx="454.40" cy="414.70" r="1.65" fill="#f3716a"/>
<circle cx="457.60" cy="413.60" r="1.65" fill="#f3716a"/>
<circle cx="463.60" cy="420.40" r="1.65" fill="#f3716a"/>
<circle cx="475.70" cy="423.90" r="1.65" fill="#f3716a"/>
<circle cx="441.10" cy="423.90" r="1.65" fill="#f3716a"/>
<circle cx="445.20" cy="418.60" r="1.65" fill="#f3716a"/>
<circle cx="437.90" cy="430.50" r="1.65" fill="#f3716a"/>
<circle cx="447.30" cy="433.70" r="1.65" fill="#f3716a"/>
<circle cx="510.70" cy="433.70" r="1.65" fill="#f3716a"/>
<circle cx="483.30" cy="443.40" r="1.65" fill="#f3716a"/>
<circle cx="480.70" cy="448.80" r="1.65" fill="#f3716a"/>
<circle cx="485.10" cy="452.00" r="1.65" fill="#f3716a"/>
<circle cx="456.20" cy="446.60" r="1.65" fill="#f3716a"/>
<circle cx="459.70" cy="452.30" r="1.65" fill="#f3716a"/>
<circle cx="489.90" cy="454.40" r="1.65" fill="#f3716a"/>
<circle cx="495.60" cy="452.70" r="1.65" fill="#f3716a"/>
<circle cx="492.20" cy="456.80" r="1.65" fill="#f3716a"/>
<circle cx="505.90" cy="459.90" r="1.65" fill="#f3716a"/>
<circle cx="497.00" cy="465.10" r="1.65" fill="#f3716a"/>
<circle cx="500.50" cy="466.20" r="1.65" fill="#f3716a"/>
<circle cx="513.90" cy="469.20" r="1.65" fill="#f3716a"/>
<circle cx="528.60" cy="471.00" r="1.65" fill="#f3716a"/>
<circle cx="477.50" cy="472.70" r="1.65" fill="#f3716a"/>
<circle cx="468.60" cy="459.40" r="1.65" fill="#f3716a"/>
<circle cx="465.00" cy="443.40" r="1.65" fill="#f3716a"/>
<circle cx="554.80" cy="427.30" r="1.65" fill="#f3716a"/>
<circle cx="541.10" cy="446.60" r="1.65" fill="#f3716a"/>
<circle cx="547.30" cy="446.60" r="1.65" fill="#f3716a"/>
<circle cx="528.90" cy="470.80" r="1.65" fill="#f3716a"/>
<circle cx="561.00" cy="476.60" r="1.65" fill="#f3716a"/>
<circle cx="526.20" cy="484.20" r="1.65" fill="#f3716a"/>
<circle cx="536.60" cy="485.30" r="1.65" fill="#f3716a"/>
<circle cx="553.10" cy="490.00" r="1.65" fill="#f3716a"/>
<circle cx="589.80" cy="485.30" r="1.65" fill="#f3716a"/>
<circle cx="602.00" cy="485.30" r="1.65" fill="#f3716a"/>
<circle cx="608.00" cy="482.20" r="1.65" fill="#f3716a"/>
<circle cx="614.20" cy="465.00" r="1.65" fill="#f3716a"/>
<circle cx="626.20" cy="467.70" r="1.65" fill="#f3716a"/>
<circle cx="621.50" cy="482.20" r="1.65" fill="#f3716a"/>
<circle cx="624.60" cy="488.00" r="1.65" fill="#f3716a"/>
<circle cx="623.10" cy="493.60" r="1.65" fill="#f3716a"/>
<circle cx="600.30" cy="496.30" r="1.65" fill="#f3716a"/>
<circle cx="643.20" cy="490.90" r="1.65" fill="#f3716a"/>
<circle cx="620.40" cy="501.70" r="1.65" fill="#f3716a"/>
<circle cx="633.90" cy="501.70" r="1.65" fill="#f3716a"/>
<circle cx="645.90" cy="506.90" r="1.65" fill="#f3716a"/>
<circle cx="641.80" cy="515.20" r="1.65" fill="#f3716a"/>
<circle cx="563.90" cy="503.80" r="1.65" fill="#f3716a"/>
<circle cx="562.50" cy="512.50" r="1.65" fill="#f3716a"/>
<circle cx="580.70" cy="510.00" r="1.65" fill="#f3716a"/>
<circle cx="582.10" cy="517.70" r="1.65" fill="#f3716a"/>
<circle cx="524.10" cy="504.80" r="1.65" fill="#f3716a"/>
<circle cx="527.20" cy="504.40" r="1.65" fill="#f3716a"/>
<circle cx="520.00" cy="509.00" r="1.65" fill="#f3716a"/>
<circle cx="532.00" cy="510.00" r="1.65" fill="#f3716a"/>
<circle cx="538.20" cy="513.10" r="1.65" fill="#f3716a"/>
<circle cx="533.50" cy="518.30" r="1.65" fill="#f3716a"/>
<circle cx="542.40" cy="520.40" r="1.65" fill="#f3716a"/>
<circle cx="544.40" cy="527.20" r="1.65" fill="#f3716a"/>
<circle cx="549.00" cy="518.30" r="1.65" fill="#f3716a"/>
<circle cx="550.60" cy="510.00" r="1.65" fill="#f3716a"/>
<circle cx="530.40" cy="501.70" r="1.65" fill="#f3716a"/>
<circle cx="535.50" cy="502.80" r="1.65" fill="#f3716a"/>
<circle cx="539.70" cy="504.40" r="1.65" fill="#f3716a"/>
<circle cx="557.90" cy="525.10" r="1.65" fill="#f3716a"/>
<circle cx="556.20" cy="532.80" r="1.65" fill="#f3716a"/>
<circle cx="565.10" cy="528.00" r="1.65" fill="#f3716a"/>
<circle cx="567.20" cy="530.70" r="1.65" fill="#f3716a"/>
<circle cx="569.30" cy="537.00" r="1.65" fill="#f3716a"/>
<circle cx="572.20" cy="535.90" r="1.65" fill="#f3716a"/>
<circle cx="574.30" cy="535.50" r="1.65" fill="#f3716a"/>
<circle cx="575.90" cy="538.40" r="1.65" fill="#f3716a"/>
<circle cx="559.30" cy="540.50" r="1.65" fill="#f3716a"/>
<circle cx="545.90" cy="539.00" r="1.65" fill="#f3716a"/>
<circle cx="579.00" cy="550.80" r="1.65" fill="#f3716a"/>
<circle cx="584.20" cy="556.20" r="1.65" fill="#f3716a"/>
<circle cx="586.70" cy="554.10" r="1.65" fill="#f3716a"/>
<circle cx="585.90" cy="560.30" r="1.65" fill="#f3716a"/>
<circle cx="588.30" cy="560.30" r="1.65" fill="#f3716a"/>
<circle cx="592.10" cy="562.80" r="1.65" fill="#f3716a"/>
<circle cx="594.10" cy="569.00" r="1.65" fill="#f3716a"/>
<circle cx="596.20" cy="561.40" r="1.65" fill="#f3716a"/>
<circle cx="597.00" cy="551.40" r="1.65" fill="#f3716a"/>
<circle cx="599.10" cy="558.30" r="1.65" fill="#f3716a"/>
<circle cx="603.50" cy="570.10" r="1.65" fill="#f3716a"/>
<circle cx="604.90" cy="561.40" r="1.65" fill="#f3716a"/>
<circle cx="607.00" cy="565.30" r="1.65" fill="#f3716a"/>
<circle cx="609.50" cy="565.30" r="1.65" fill="#f3716a"/>
<circle cx="611.10" cy="570.10" r="1.65" fill="#f3716a"/>
<circle cx="612.80" cy="557.70" r="1.65" fill="#f3716a"/>
<circle cx="615.70" cy="561.20" r="1.65" fill="#f3716a"/>
<circle cx="627.70" cy="573.20" r="1.65" fill="#f3716a"/>
<circle cx="630.80" cy="579.00" r="1.65" fill="#f3716a"/>
<circle cx="617.30" cy="581.90" r="1.65" fill="#f3716a"/>
<circle cx="619.00" cy="579.40" r="1.65" fill="#f3716a"/>
<circle cx="640.10" cy="579.40" r="1.65" fill="#f3716a"/>
<circle cx="644.20" cy="581.90" r="1.65" fill="#f3716a"/>
<circle cx="629.30" cy="588.70" r="1.65" fill="#f3716a"/>
<circle cx="632.90" cy="588.70" r="1.65" fill="#f3716a"/>
<circle cx="635.60" cy="587.30" r="1.65" fill="#f3716a"/>
<circle cx="637.60" cy="585.60" r="1.65" fill="#f3716a"/>
<circle cx="638.50" cy="591.80" r="1.65" fill="#f3716a"/>
<circle cx="483.60" cy="443.20" r="1.65" fill="#f3716a"/>
<circle cx="480.70" cy="448.90" r="1.65" fill="#f3716a"/>
<circle cx="485.30" cy="452.10" r="1.65" fill="#f3716a"/>
<circle cx="489.60" cy="454.20" r="1.65" fill="#f3716a"/>
<circle cx="492.80" cy="456.30" r="1.65" fill="#f3716a"/>
<circle cx="491.00" cy="458.60" r="1.65" fill="#f3716a"/>
<circle cx="496.00" cy="452.80" r="1.65" fill="#f3716a"/>
<circle cx="506.50" cy="459.90" r="1.65" fill="#f3716a"/>
<circle cx="497.20" cy="464.90" r="1.65" fill="#f3716a"/>
<circle cx="500.80" cy="466.30" r="1.65" fill="#f3716a"/>
<circle cx="514.10" cy="468.90" r="1.65" fill="#f3716a"/>
<circle cx="529.20" cy="471.10" r="1.65" fill="#f3716a"/>
<circle cx="526.20" cy="484.40" r="1.65" fill="#f3716a"/>
<circle cx="536.80" cy="485.30" r="1.65" fill="#f3716a"/>
<circle cx="456.40" cy="447.10" r="1.65" fill="#f3716a"/>
<circle cx="459.40" cy="452.80" r="1.65" fill="#f3716a"/>
<circle cx="462.60" cy="452.80" r="1.65" fill="#f3716a"/>
<circle cx="467.90" cy="459.90" r="1.65" fill="#f3716a"/>
<circle cx="477.70" cy="472.80" r="1.65" fill="#f3716a"/>
<circle cx="488.00" cy="487.60" r="1.65" fill="#f3716a"/>
<circle cx="498.10" cy="486.50" r="1.65" fill="#f3716a"/>
<circle cx="501.70" cy="484.40" r="1.65" fill="#f3716a"/>
<circle cx="504.90" cy="485.80" r="1.65" fill="#f3716a"/>
<circle cx="507.90" cy="487.90" r="1.65" fill="#f3716a"/>
<circle cx="503.40" cy="490.60" r="1.65" fill="#f3716a"/>
<circle cx="509.60" cy="493.60" r="1.65" fill="#f3716a"/>
<circle cx="515.50" cy="493.60" r="1.65" fill="#f3716a"/>
<circle cx="486.60" cy="510.10" r="1.65" fill="#f3716a"/>
<circle cx="518.50" cy="504.30" r="1.65" fill="#f3716a"/>
<circle cx="524.70" cy="504.80" r="1.65" fill="#f3716a"/>
<circle cx="527.40" cy="504.30" r="1.65" fill="#f3716a"/>
<circle cx="530.40" cy="501.80" r="1.65" fill="#f3716a"/>
<circle cx="535.40" cy="503.00" r="1.65" fill="#f3716a"/>
<circle cx="517.30" cy="509.60" r="1.65" fill="#f3716a"/>
<circle cx="520.30" cy="507.80" r="1.65" fill="#f3716a"/>
<circle cx="521.50" cy="510.10" r="1.65" fill="#f3716a"/>
<circle cx="531.80" cy="509.60" r="1.65" fill="#f3716a"/>
<circle cx="538.10" cy="512.80" r="1.65" fill="#f3716a"/>
<circle cx="533.60" cy="518.10" r="1.65" fill="#f3716a"/>
<circle cx="512.30" cy="511.40" r="1.65" fill="#f3716a"/>
<circle cx="422.80" cy="390.50" r="1.65" fill="#1bb7bf"/>
<circle cx="421.00" cy="402.60" r="1.65" fill="#1bb7bf"/>
<circle cx="434.90" cy="395.90" r="1.65" fill="#1bb7bf"/>
<circle cx="444.10" cy="407.60" r="1.65" fill="#1bb7bf"/>
<circle cx="451.40" cy="420.00" r="1.65" fill="#1bb7bf"/>
<circle cx="442.50" cy="436.70" r="1.65" fill="#1bb7bf"/>
<circle cx="447.30" cy="438.10" r="1.65" fill="#1bb7bf"/>
<circle cx="450.00" cy="448.80" r="1.65" fill="#1bb7bf"/>
<circle cx="461.80" cy="457.30" r="1.65" fill="#1bb7bf"/>
<circle cx="469.80" cy="466.50" r="1.65" fill="#1bb7bf"/>
<circle cx="473.00" cy="470.40" r="1.65" fill="#1bb7bf"/>
<circle cx="475.70" cy="461.20" r="1.65" fill="#1bb7bf"/>
<circle cx="481.90" cy="456.80" r="1.65" fill="#1bb7bf"/>
<circle cx="486.30" cy="461.70" r="1.65" fill="#1bb7bf"/>
<circle cx="482.80" cy="467.40" r="1.65" fill="#1bb7bf"/>
<circle cx="485.40" cy="471.30" r="1.65" fill="#1bb7bf"/>
<circle cx="491.30" cy="473.60" r="1.65" fill="#1bb7bf"/>
<circle cx="513.90" cy="478.10" r="1.65" fill="#1bb7bf"/>
<circle cx="454.40" cy="440.80" r="1.65" fill="#1bb7bf"/>
<circle cx="555.20" cy="506.90" r="1.65" fill="#1bb7bf"/>
<circle cx="522.10" cy="540.10" r="1.65" fill="#1bb7bf"/>
<circle cx="527.20" cy="542.10" r="1.65" fill="#1bb7bf"/>
<circle cx="532.80" cy="540.10" r="1.65" fill="#1bb7bf"/>
<circle cx="536.60" cy="538.00" r="1.65" fill="#1bb7bf"/>
<circle cx="540.70" cy="528.00" r="1.65" fill="#1bb7bf"/>
<circle cx="546.90" cy="535.50" r="1.65" fill="#1bb7bf"/>
<circle cx="553.10" cy="544.20" r="1.65" fill="#1bb7bf"/>
<circle cx="563.90" cy="545.20" r="1.65" fill="#1bb7bf"/>
<circle cx="578.00" cy="541.10" r="1.65" fill="#1bb7bf"/>
<circle cx="552.10" cy="565.30" r="1.65" fill="#1bb7bf"/>
<circle cx="556.20" cy="565.30" r="1.65" fill="#1bb7bf"/>
<circle cx="580.50" cy="594.90" r="1.65" fill="#1bb7bf"/>
<circle cx="614.20" cy="597.60" r="1.65" fill="#1bb7bf"/>
<circle cx="524.10" cy="515.60" r="1.65" fill="#1bb7bf"/>
<circle cx="450.20" cy="448.90" r="1.65" fill="#1bb7bf"/>
<circle cx="462.30" cy="457.40" r="1.65" fill="#1bb7bf"/>
<circle cx="469.70" cy="466.60" r="1.65" fill="#1bb7bf"/>
<circle cx="473.30" cy="470.50" r="1.65" fill="#1bb7bf"/>
<circle cx="475.40" cy="461.30" r="1.65" fill="#1bb7bf"/>
<circle cx="482.10" cy="456.90" r="1.65" fill="#1bb7bf"/>
<circle cx="486.60" cy="462.20" r="1.65" fill="#1bb7bf"/>
<circle cx="483.60" cy="467.50" r="1.65" fill="#1bb7bf"/>
<circle cx="485.30" cy="471.60" r="1.65" fill="#1bb7bf"/>
<circle cx="491.00" cy="473.70" r="1.65" fill="#1bb7bf"/>
<circle cx="477.30" cy="484.40" r="1.65" fill="#1bb7bf"/>
<circle cx="495.40" cy="485.30" r="1.65" fill="#1bb7bf"/>
<circle cx="493.10" cy="490.60" r="1.65" fill="#1bb7bf"/>
<circle cx="514.10" cy="478.70" r="1.65" fill="#1bb7bf"/>
<circle cx="498.10" cy="497.70" r="1.65" fill="#1bb7bf"/>
<circle cx="501.30" cy="495.90" r="1.65" fill="#1bb7bf"/>
<circle cx="506.10" cy="499.50" r="1.65" fill="#1bb7bf"/>
<circle cx="497.20" cy="507.10" r="1.65" fill="#1bb7bf"/>
<circle cx="507.90" cy="512.40" r="1.65" fill="#1bb7bf"/>
<circle cx="510.50" cy="493.30" r="1.65" fill="#1bb7bf"/>
<circle cx="523.00" cy="515.40" r="1.65" fill="#1bb7bf"/>
<circle cx="526.20" cy="516.00" r="1.65" fill="#1bb7bf"/>
<circle cx="517.60" cy="519.00" r="1.65" fill="#1bb7bf"/>
<circle cx="520.30" cy="522.50" r="1.65" fill="#1bb7bf"/>
<circle cx="524.70" cy="526.60" r="1.65" fill="#1bb7bf"/>
<circle cx="530.40" cy="532.00" r="1.65" fill="#1bb7bf"/>
<circle cx="521.20" cy="540.30" r="1.65" fill="#1bb7bf"/>
<circle cx="527.40" cy="542.60" r="1.65" fill="#1bb7bf"/>
<circle cx="532.20" cy="540.30" r="1.65" fill="#1bb7bf"/>
<circle cx="536.30" cy="542.10" r="1.65" fill="#1bb7bf"/>
<circle cx="560.65" cy="560.68" r="1.65" fill="#1bb7bf"/>
<circle cx="632.55" cy="619.58" r="1.65" fill="#1bb7bf"/>
<circle cx="586.98" cy="585.58" r="1.65" fill="#1bb7bf"/>
<circle cx="525.27" cy="524.84" r="1.65" fill="#1bb7bf"/>
<circle cx="632.76" cy="620.75" r="1.65" fill="#1bb7bf"/>
<circle cx="445.97" cy="424.94" r="1.65" fill="#1bb7bf"/>
<circle cx="526.04" cy="525.95" r="1.65" fill="#1bb7bf"/>
<circle cx="549.64" cy="552.64" r="1.65" fill="#1bb7bf"/>
<circle cx="423.45" cy="396.07" r="1.65" fill="#1bb7bf"/>
<circle cx="626.68" cy="620.09" r="1.65" fill="#1bb7bf"/>
<circle cx="592.79" cy="592.19" r="1.65" fill="#1bb7bf"/>
<circle cx="451.72" cy="439.34" r="1.65" fill="#1bb7bf"/>
<circle cx="559.43" cy="559.77" r="1.65" fill="#1bb7bf"/>
<circle cx="616.57" cy="610.44" r="1.65" fill="#1bb7bf"/>
<circle cx="467.63" cy="458.65" r="1.65" fill="#1bb7bf"/>
<circle cx="616.79" cy="616.09" r="1.65" fill="#1bb7bf"/>
<circle cx="485.59" cy="482.32" r="1.65" fill="#1bb7bf"/>
<circle cx="573.01" cy="571.90" r="1.65" fill="#1bb7bf"/>
<circle cx="466.58" cy="458.92" r="1.65" fill="#1bb7bf"/>
<circle cx="637.98" cy="626.24" r="1.65" fill="#1bb7bf"/>
<circle cx="621.59" cy="613.86" r="1.65" fill="#1bb7bf"/>
<circle cx="457.84" cy="446.38" r="1.65" fill="#1bb7bf"/>
<circle cx="453.28" cy="440.00" r="1.65" fill="#1bb7bf"/>
<circle cx="556.20" cy="557.25" r="1.65" fill="#1bb7bf"/>
<circle cx="421.26" cy="391.62" r="1.65" fill="#1bb7bf"/>
<circle cx="490.24" cy="483.87" r="1.65" fill="#1bb7bf"/>
<circle cx="604.67" cy="598.74" r="1.65" fill="#1bb7bf"/>
<circle cx="528.77" cy="529.01" r="1.65" fill="#1bb7bf"/>
<circle cx="579.05" cy="583.12" r="1.65" fill="#1bb7bf"/>
<circle cx="425.64" cy="400.95" r="1.65" fill="#1bb7bf"/>
<circle cx="589.20" cy="587.34" r="1.65" fill="#1bb7bf"/>
<circle cx="597.74" cy="594.25" r="1.65" fill="#1bb7bf"/>
<circle cx="502.89" cy="500.08" r="1.65" fill="#1bb7bf"/>
<circle cx="431.01" cy="406.88" r="1.65" fill="#1bb7bf"/>
<circle cx="461.21" cy="450.32" r="1.65" fill="#1bb7bf"/>
<circle cx="590.54" cy="587.93" r="1.65" fill="#1bb7bf"/>
<circle cx="629.67" cy="622.59" r="1.65" fill="#1bb7bf"/>
<circle cx="500.33" cy="496.71" r="1.65" fill="#1bb7bf"/>
<circle cx="538.56" cy="539.13" r="1.65" fill="#1bb7bf"/>
<circle cx="588.89" cy="585.90" r="1.65" fill="#1bb7bf"/>
<circle cx="599.88" cy="596.74" r="1.65" fill="#1bb7bf"/>
<circle cx="633.31" cy="623.30" r="1.65" fill="#1bb7bf"/>
<circle cx="441.02" cy="419.96" r="1.65" fill="#1bb7bf"/>
<circle cx="627.07" cy="621.13" r="1.65" fill="#1bb7bf"/>
<circle cx="496.99" cy="495.71" r="1.65" fill="#1bb7bf"/>
<circle cx="490.80" cy="485.02" r="1.65" fill="#1bb7bf"/>
<circle cx="491.78" cy="487.69" r="1.65" fill="#1bb7bf"/>
<circle cx="454.00" cy="440.14" r="1.65" fill="#1bb7bf"/>
<circle cx="575.56" cy="576.04" r="1.65" fill="#1bb7bf"/>
<circle cx="431.42" cy="407.59" r="1.65" fill="#1bb7bf"/>
<circle cx="642.51" cy="628.83" r="1.65" fill="#1bb7bf"/>
<circle cx="473.90" cy="465.01" r="1.65" fill="#1bb7bf"/>
<circle cx="554.14" cy="555.58" r="1.65" fill="#1bb7bf"/>
<circle cx="515.40" cy="512.41" r="1.65" fill="#1bb7bf"/>
<circle cx="433.03" cy="410.41" r="1.65" fill="#1bb7bf"/>
<circle cx="531.55" cy="531.46" r="1.65" fill="#1bb7bf"/>
<circle cx="609.15" cy="606.44" r="1.65" fill="#1bb7bf"/>
<circle cx="634.20" cy="626.80" r="1.65" fill="#1bb7bf"/>
<circle cx="562.34" cy="562.71" r="1.65" fill="#1bb7bf"/>
<circle cx="518.27" cy="516.60" r="1.65" fill="#1bb7bf"/>
<circle cx="454.08" cy="440.47" r="1.65" fill="#1bb7bf"/>
<circle cx="522.46" cy="520.68" r="1.65" fill="#1bb7bf"/>
<circle cx="645.34" cy="636.25" r="1.65" fill="#1bb7bf"/>
<circle cx="522.55" cy="517.78" r="1.65" fill="#1bb7bf"/>
<circle cx="530.34" cy="530.15" r="1.65" fill="#1bb7bf"/>
<circle cx="485.98" cy="478.11" r="1.65" fill="#1bb7bf"/>
<circle cx="511.35" cy="511.06" r="1.65" fill="#1bb7bf"/>
<circle cx="642.89" cy="632.66" r="1.65" fill="#1bb7bf"/>
<circle cx="636.46" cy="624.53" r="1.65" fill="#1bb7bf"/>
<circle cx="496.66" cy="491.41" r="1.65" fill="#1bb7bf"/>
<circle cx="440.56" cy="420.30" r="1.65" fill="#1bb7bf"/>
<circle cx="615.66" cy="613.07" r="1.65" fill="#1bb7bf"/>
<circle cx="501.80" cy="499.83" r="1.65" fill="#1bb7bf"/>
<circle cx="576.78" cy="572.60" r="1.65" fill="#1bb7bf"/>
<circle cx="569.90" cy="569.73" r="1.65" fill="#1bb7bf"/>
<circle cx="579.01" cy="576.09" r="1.65" fill="#1bb7bf"/>
<circle cx="483.69" cy="474.18" r="1.65" fill="#1bb7bf"/>
<circle cx="575.95" cy="575.51" r="1.65" fill="#1bb7bf"/>
<circle cx="486.62" cy="483.87" r="1.65" fill="#1bb7bf"/>
<circle cx="551.15" cy="550.66" r="1.65" fill="#1bb7bf"/>
<circle cx="423.11" cy="393.76" r="1.65" fill="#1bb7bf"/>
<circle cx="571.62" cy="570.77" r="1.65" fill="#1bb7bf"/>
<circle cx="524.66" cy="525.60" r="1.65" fill="#1bb7bf"/>
<circle cx="599.97" cy="593.83" r="1.65" fill="#1bb7bf"/>
<circle cx="498.77" cy="493.54" r="1.65" fill="#1bb7bf"/>
<circle cx="606.84" cy="599.73" r="1.65" fill="#1bb7bf"/>
<circle cx="499.26" cy="498.35" r="1.65" fill="#1bb7bf"/>
<circle cx="575.38" cy="571.31" r="1.65" fill="#1bb7bf"/>
<circle cx="640.13" cy="631.33" r="1.65" fill="#1bb7bf"/>
<circle cx="539.60" cy="539.39" r="1.65" fill="#1bb7bf"/>
<circle cx="457.89" cy="447.08" r="1.65" fill="#1bb7bf"/>
<circle cx="527.88" cy="523.82" r="1.65" fill="#1bb7bf"/>
<circle cx="576.07" cy="574.70" r="1.65" fill="#1bb7bf"/>
<circle cx="459.16" cy="443.16" r="1.65" fill="#1bb7bf"/>
<circle cx="596.08" cy="590.54" r="1.65" fill="#1bb7bf"/>
<circle cx="515.18" cy="512.69" r="1.65" fill="#1bb7bf"/>
<circle cx="560.84" cy="561.49" r="1.65" fill="#1bb7bf"/>
<circle cx="582.59" cy="578.42" r="1.65" fill="#1bb7bf"/>
<circle cx="426.71" cy="401.79" r="1.65" fill="#1bb7bf"/>
<circle cx="566.78" cy="568.51" r="1.65" fill="#1bb7bf"/>
<circle cx="469.78" cy="459.09" r="1.65" fill="#1bb7bf"/>
<circle cx="429.92" cy="402.80" r="1.65" fill="#1bb7bf"/>
<circle cx="526.61" cy="526.60" r="1.65" fill="#1bb7bf"/>
<circle cx="450.54" cy="435.37" r="1.65" fill="#1bb7bf"/>
<circle cx="491.90" cy="488.03" r="1.65" fill="#1bb7bf"/>
<circle cx="428.52" cy="404.52" r="1.65" fill="#1bb7bf"/>
<circle cx="525.20" cy="522.99" r="1.65" fill="#1bb7bf"/>
<circle cx="553.29" cy="555.61" r="1.65" fill="#1bb7bf"/>
<circle cx="474.02" cy="465.64" r="1.65" fill="#1bb7bf"/>
<circle cx="511.71" cy="510.24" r="1.65" fill="#1bb7bf"/>
<circle cx="483.17" cy="476.12" r="1.65" fill="#1bb7bf"/>
<circle cx="607.56" cy="603.43" r="1.65" fill="#1bb7bf"/>
<circle cx="504.62" cy="504.98" r="1.65" fill="#1bb7bf"/>
<circle cx="441.83" cy="423.22" r="1.65" fill="#1bb7bf"/>
<circle cx="543.17" cy="542.26" r="1.65" fill="#1bb7bf"/>
<circle cx="636.12" cy="628.15" r="1.65" fill="#1bb7bf"/>
<circle cx="604.67" cy="597.27" r="1.65" fill="#1bb7bf"/>
<circle cx="565.02" cy="566.81" r="1.65" fill="#1bb7bf"/>
<circle cx="503.62" cy="502.84" r="1.65" fill="#1bb7bf"/>
<circle cx="547.37" cy="549.98" r="1.65" fill="#1bb7bf"/>
<circle cx="635.87" cy="628.41" r="1.65" fill="#1bb7bf"/>
<circle cx="499.50" cy="495.86" r="1.65" fill="#1bb7bf"/>
<circle cx="621.53" cy="615.34" r="1.65" fill="#1bb7bf"/>
<circle cx="547.81" cy="548.32" r="1.65" fill="#1bb7bf"/>
<circle cx="558.91" cy="560.98" r="1.65" fill="#1bb7bf"/>
<circle cx="621.04" cy="616.17" r="1.65" fill="#1bb7bf"/>
<circle cx="505.07" cy="501.50" r="1.65" fill="#1bb7bf"/>
<circle cx="486.09" cy="481.10" r="1.65" fill="#1bb7bf"/>
<circle cx="639.30" cy="624.66" r="1.65" fill="#1bb7bf"/>
<circle cx="626.09" cy="621.53" r="1.65" fill="#1bb7bf"/>
<circle cx="554.56" cy="554.62" r="1.65" fill="#1bb7bf"/>
<circle cx="532.17" cy="537.98" r="1.65" fill="#1bb7bf"/>
<circle cx="513.99" cy="510.38" r="1.65" fill="#1bb7bf"/>
<circle cx="531.14" cy="536.52" r="1.65" fill="#1bb7bf"/>
<circle cx="484.94" cy="478.10" r="1.65" fill="#1bb7bf"/>
<circle cx="560.38" cy="560.75" r="1.65" fill="#1bb7bf"/>
<circle cx="520.28" cy="518.77" r="1.65" fill="#1bb7bf"/>
<circle cx="606.53" cy="605.40" r="1.65" fill="#1bb7bf"/>
<circle cx="423.47" cy="394.20" r="1.65" fill="#1bb7bf"/>
<circle cx="630.93" cy="621.54" r="1.65" fill="#1bb7bf"/>
<polygon points="420.20,373.22 424.03,380.08 427.85,386.52 431.68,392.37 435.51,397.97 439.34,403.31 443.16,408.31 446.99,412.89 450.82,417.23 454.64,421.46 458.47,425.58 462.30,429.59 466.13,433.51 469.95,437.33 473.78,441.05 477.61,444.69 481.43,448.24 485.26,451.69 489.09,455.04 492.92,458.30 496.74,461.48 500.57,464.59 504.40,467.67 508.22,470.71 512.05,473.75 515.88,476.78 519.71,479.78 523.53,482.76 527.36,485.73 531.19,488.66 535.01,491.59 538.84,494.49 542.67,497.38 546.49,500.24 550.32,503.06 554.15,505.88 557.98,508.70 561.80,511.48 565.63,514.21 569.46,516.85 573.28,519.37 577.11,521.75 580.94,523.95 584.77,525.97 588.59,527.86 592.42,529.63 596.25,531.27 600.07,532.77 603.90,534.12 607.73,535.32 611.56,536.30 615.38,536.82 619.21,536.97 623.04,536.88 626.86,536.50 630.69,535.73 634.52,534.59 638.35,533.00 642.17,530.80 646.00,528.10 646.00,561.30 642.17,560.06 638.35,558.88 634.52,557.87 630.69,556.87 626.86,555.86 623.04,554.82 619.21,553.71 615.38,552.46 611.56,551.22 607.73,550.12 603.90,548.92 600.07,547.57 596.25,546.07 592.42,544.43 588.59,542.66 584.77,540.77 580.94,538.77 577.11,536.75 573.28,534.69 569.46,532.59 565.63,530.43 561.80,528.20 557.98,525.88 554.15,523.48 550.32,520.96 546.49,518.34 542.67,515.68 538.84,512.97 535.01,510.23 531.19,507.46 527.36,504.65 523.53,501.80 519.71,498.90 515.88,495.96 512.05,492.95 508.22,489.87 504.40,486.69 500.57,483.45 496.74,480.14 492.92,476.78 489.09,473.36 485.26,469.91 481.43,466.44 477.61,462.91 473.78,459.31 469.95,455.65 466.13,451.91 462.30,448.11 458.47,444.22 454.64,440.26 450.82,436.21 446.99,432.07 443.16,427.97 439.34,424.07 435.51,420.29 431.68,416.53 427.85,412.80 424.03,409.42 420.20,406.22" fill="#999999" fill-opacity="0.42"/>
<polygon points="420.25,389.05 423.07,393.34 425.89,397.59 428.71,401.79 431.53,405.95 434.35,410.07 437.17,414.14 439.99,418.17 442.81,422.17 445.64,426.12 448.46,430.03 451.28,433.90 454.10,437.73 456.92,441.53 459.74,445.29 462.56,449.01 465.38,452.69 468.20,456.34 471.02,459.96 473.84,463.54 476.66,467.08 479.48,470.59 482.30,474.07 485.12,477.52 487.94,480.93 490.77,484.31 493.59,487.66 496.41,490.98 499.23,494.27 502.05,497.53 504.87,500.76 507.69,503.96 510.51,507.13 513.33,510.27 516.15,513.38 518.97,516.47 521.79,519.52 524.61,522.55 527.43,525.56 530.25,528.54 533.07,531.49 535.90,534.42 538.72,537.32 541.54,540.19 544.36,543.04 547.18,545.87 550.00,548.67 552.82,551.45 555.64,554.21 558.46,556.94 561.28,559.65 564.10,562.34 566.92,565.00 569.74,567.65 572.56,570.27 575.38,572.87 578.20,575.45 581.03,578.00 583.85,580.54 586.67,583.06 589.49,585.55 592.31,587.81 595.13,590.00 597.95,592.17 600.77,594.32 603.59,596.45 606.41,598.56 609.23,600.65 612.05,602.73 614.87,604.78 617.69,606.82 620.51,608.84 623.33,610.85 626.16,612.83 628.98,614.80 631.80,616.76 634.62,618.69 637.44,620.61 640.26,622.51 643.08,624.40 645.90,626.27 645.90,640.53 643.08,638.12 640.26,635.70 637.44,633.26 634.62,630.81 631.80,628.34 628.98,625.85 626.16,623.34 623.33,620.82 620.51,618.28 617.69,615.73 614.87,613.15 612.05,610.56 609.23,607.95 606.41,605.32 603.59,602.67 600.77,600.00 597.95,597.32 595.13,594.61 592.31,591.89 589.49,589.19 586.67,586.70 583.85,584.18 581.03,581.64 578.20,579.09 575.38,576.51 572.56,573.91 569.74,571.29 566.92,568.64 564.10,565.98 561.28,563.29 558.46,560.58 555.64,557.85 552.82,555.09 550.00,552.31 547.18,549.51 544.36,546.68 541.54,543.83 538.72,540.96 535.90,538.06 533.07,535.13 530.25,532.18 527.43,529.20 524.61,526.19 521.79,523.16 518.97,520.11 516.15,517.02 513.33,513.91 510.51,510.77 507.69,507.60 504.87,504.40 502.05,501.17 499.23,497.91 496.41,494.62 493.59,491.30 490.77,487.95 487.94,484.57 485.12,481.16 482.30,477.71 479.48,474.23 476.66,470.72 473.84,467.18 471.02,463.60 468.20,459.98 465.38,456.33 462.56,452.65 459.74,448.93 456.92,445.17 454.10,441.37 451.28,437.54 448.46,433.67 445.64,429.76 442.81,425.81 439.99,421.81 437.17,417.78 434.35,413.71 431.53,409.59 428.71,405.43 425.89,401.23 423.07,396.98 420.25,392.69" fill="#999999" fill-opacity="0.42"/>
<polyline points="420.20,389.72 424.03,394.75 427.85,399.66 431.68,404.45 435.51,409.13 439.34,413.69 443.16,418.14 446.99,422.48 450.82,426.72 454.64,430.86 458.47,434.90 462.30,438.85 466.13,442.71 469.95,446.49 473.78,450.18 477.61,453.80 481.43,457.34 485.26,460.80 489.09,464.20 492.92,467.54 496.74,470.81 500.57,474.02 504.40,477.18 508.22,480.29 512.05,483.35 515.88,486.37 519.71,489.34 523.53,492.28 527.36,495.19 531.19,498.06 535.01,500.91 538.84,503.73 542.67,506.53 546.49,509.29 550.32,512.01 554.15,514.68 557.98,517.29 561.80,519.84 565.63,522.32 569.46,524.72 573.28,527.03 577.11,529.25 580.94,531.36 584.77,533.37 588.59,535.26 592.42,537.03 596.25,538.67 600.07,540.17 603.90,541.52 607.73,542.72 611.56,543.76 615.38,544.64 619.21,545.34 623.04,545.85 626.86,546.18 630.69,546.30 634.52,546.23 638.35,545.94 642.17,545.43 646.00,544.70" fill="none" stroke="#f3716a" stroke-width="2.7" stroke-linejoin="round"/>
<polyline points="420.25,390.87 423.07,395.16 425.89,399.41 428.71,403.61 431.53,407.77 434.35,411.89 437.17,415.96 439.99,419.99 442.81,423.99 445.64,427.94 448.46,431.85 451.28,435.72 454.10,439.55 456.92,443.35 459.74,447.11 462.56,450.83 465.38,454.51 468.20,458.16 471.02,461.78 473.84,465.36 476.66,468.90 479.48,472.41 482.30,475.89 485.12,479.34 487.94,482.75 490.77,486.13 493.59,489.48 496.41,492.80 499.23,496.09 502.05,499.35 504.87,502.58 507.69,505.78 510.51,508.95 513.33,512.09 516.15,515.20 518.97,518.29 521.79,521.34 524.61,524.37 527.43,527.38 530.25,530.36 533.07,533.31 535.90,536.24 538.72,539.14 541.54,542.01 544.36,544.86 547.18,547.69 550.00,550.49 552.82,553.27 555.64,556.03 558.46,558.76 561.28,561.47 564.10,564.16 566.92,566.82 569.74,569.47 572.56,572.09 575.38,574.69 578.20,577.27 581.03,579.82 583.85,582.36 586.67,584.88 589.49,587.37 592.31,589.85 595.13,592.31 597.95,594.74 600.77,597.16 603.59,599.56 606.41,601.94 609.23,604.30 612.05,606.64 614.87,608.97 617.69,611.27 620.51,613.56 623.33,615.84 626.16,618.09 628.98,620.33 631.80,622.55 634.62,624.75 637.44,626.94 640.26,629.11 643.08,631.26 645.90,633.40" fill="none" stroke="#1bb7bf" stroke-width="3.0" stroke-linejoin="round"/>
<polyline points="408.7,365.2 408.7,633.8 657.1,633.8" fill="none" stroke="#111" stroke-width="1.4"/>
<line x1="404.60" y1="633.40" x2="408.70" y2="633.40" stroke="#111" stroke-width="1.2"/>
<text x="400.40" y="637.70" font-size="12.2" text-anchor="end" fill="#2e2e2e">0</text>
<line x1="404.60" y1="577.20" x2="408.70" y2="577.20" stroke="#111" stroke-width="1.2"/>
<text x="400.40" y="581.20" font-size="12.2" text-anchor="end" fill="#2e2e2e">0.1</text>
<line x1="404.60" y1="521.00" x2="408.70" y2="521.00" stroke="#111" stroke-width="1.2"/>
<text x="400.40" y="524.40" font-size="12.2" text-anchor="end" fill="#2e2e2e">0.2</text>
<line x1="404.60" y1="464.80" x2="408.70" y2="464.80" stroke="#111" stroke-width="1.2"/>
<text x="400.40" y="467.90" font-size="12.2" text-anchor="end" fill="#2e2e2e">0.3</text>
<line x1="404.60" y1="408.60" x2="408.70" y2="408.60" stroke="#111" stroke-width="1.2"/>
<text x="400.40" y="411.30" font-size="12.2" text-anchor="end" fill="#2e2e2e">0.4</text>
<line x1="418.20" y1="633.80" x2="418.20" y2="637.60" stroke="#111" stroke-width="1.2"/>
<text x="418.20" y="653.10" font-size="12.6" text-anchor="middle" fill="#2e2e2e">70</text>
<line x1="494.10" y1="633.80" x2="494.10" y2="637.60" stroke="#111" stroke-width="1.2"/>
<text x="494.10" y="653.10" font-size="12.6" text-anchor="middle" fill="#2e2e2e">80</text>
<line x1="570.00" y1="633.80" x2="570.00" y2="637.60" stroke="#111" stroke-width="1.2"/>
<text x="570.00" y="653.10" font-size="12.6" text-anchor="middle" fill="#2e2e2e">90</text>
<line x1="645.90" y1="633.80" x2="645.90" y2="637.60" stroke="#111" stroke-width="1.2"/>
<text x="645.90" y="653.10" font-size="12.6" text-anchor="middle" fill="#2e2e2e">100</text>
<text x="537.30" y="671.80" font-size="12.7" text-anchor="middle" fill="#2e2e2e">Samples being shuffled(%)</text>
<text x="370.60" y="514.70" font-size="12.3" text-anchor="middle" fill="#2e2e2e" transform="rotate(-90 370.60 514.70)">Cscore</text>
<circle cx="420.8" cy="611.1" r="2.0" fill="#f3716a"/>
<circle cx="420.8" cy="623.9" r="2.0" fill="#1bb7bf"/>
<text x="430.80" y="614.60" font-size="10" text-anchor="start" fill="#2e2e2e">Sample with highest Cscore</text>
<text x="430.80" y="627.00" font-size="10" text-anchor="start" fill="#2e2e2e">Ture sample</text>
</svg></div></body></html>
